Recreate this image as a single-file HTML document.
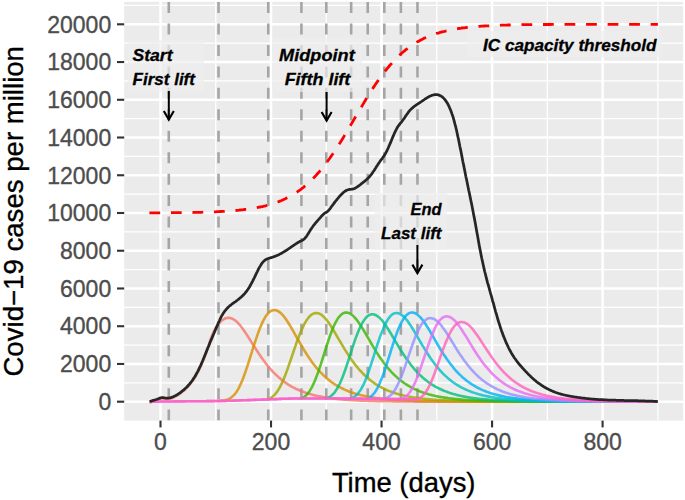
<!DOCTYPE html>
<html><head><meta charset="utf-8"><style>
html,body{margin:0;padding:0;background:#fff;width:685px;height:500px;overflow:hidden}
svg{display:block}
</style></head><body>
<svg width="685" height="500" viewBox="0 0 685 500">
<rect x="0" y="0" width="685" height="500" fill="#fff"/>
<rect x="124.2" y="1.8" width="558.90" height="418.80" fill="#EBEBEB"/>
<defs><clipPath id="pc"><rect x="124.20" y="1.80" width="558.90" height="418.80"/></clipPath></defs>
<g clip-path="url(#pc)">
<line x1="124.2" x2="683.1" y1="382.83" y2="382.83" stroke="#fff" stroke-width="1.3"/>
<line x1="124.2" x2="683.1" y1="345.09" y2="345.09" stroke="#fff" stroke-width="1.3"/>
<line x1="124.2" x2="683.1" y1="307.35" y2="307.35" stroke="#fff" stroke-width="1.3"/>
<line x1="124.2" x2="683.1" y1="269.61" y2="269.61" stroke="#fff" stroke-width="1.3"/>
<line x1="124.2" x2="683.1" y1="231.87" y2="231.87" stroke="#fff" stroke-width="1.3"/>
<line x1="124.2" x2="683.1" y1="194.13" y2="194.13" stroke="#fff" stroke-width="1.3"/>
<line x1="124.2" x2="683.1" y1="156.39" y2="156.39" stroke="#fff" stroke-width="1.3"/>
<line x1="124.2" x2="683.1" y1="118.65" y2="118.65" stroke="#fff" stroke-width="1.3"/>
<line x1="124.2" x2="683.1" y1="80.91" y2="80.91" stroke="#fff" stroke-width="1.3"/>
<line x1="124.2" x2="683.1" y1="43.17" y2="43.17" stroke="#fff" stroke-width="1.3"/>
<line x1="124.2" x2="683.1" y1="5.43" y2="5.43" stroke="#fff" stroke-width="1.3"/>
<line x1="105.24" x2="105.24" y1="1.8" y2="420.6" stroke="#fff" stroke-width="1.3"/>
<line x1="215.76" x2="215.76" y1="1.8" y2="420.6" stroke="#fff" stroke-width="1.3"/>
<line x1="326.29" x2="326.29" y1="1.8" y2="420.6" stroke="#fff" stroke-width="1.3"/>
<line x1="436.81" x2="436.81" y1="1.8" y2="420.6" stroke="#fff" stroke-width="1.3"/>
<line x1="547.34" x2="547.34" y1="1.8" y2="420.6" stroke="#fff" stroke-width="1.3"/>
<line x1="657.87" x2="657.87" y1="1.8" y2="420.6" stroke="#fff" stroke-width="1.3"/>
<line x1="124.2" x2="683.1" y1="401.70" y2="401.70" stroke="#fff" stroke-width="2.5"/>
<line x1="124.2" x2="683.1" y1="363.96" y2="363.96" stroke="#fff" stroke-width="2.5"/>
<line x1="124.2" x2="683.1" y1="326.22" y2="326.22" stroke="#fff" stroke-width="2.5"/>
<line x1="124.2" x2="683.1" y1="288.48" y2="288.48" stroke="#fff" stroke-width="2.5"/>
<line x1="124.2" x2="683.1" y1="250.74" y2="250.74" stroke="#fff" stroke-width="2.5"/>
<line x1="124.2" x2="683.1" y1="213.00" y2="213.00" stroke="#fff" stroke-width="2.5"/>
<line x1="124.2" x2="683.1" y1="175.26" y2="175.26" stroke="#fff" stroke-width="2.5"/>
<line x1="124.2" x2="683.1" y1="137.52" y2="137.52" stroke="#fff" stroke-width="2.5"/>
<line x1="124.2" x2="683.1" y1="99.78" y2="99.78" stroke="#fff" stroke-width="2.5"/>
<line x1="124.2" x2="683.1" y1="62.04" y2="62.04" stroke="#fff" stroke-width="2.5"/>
<line x1="124.2" x2="683.1" y1="24.30" y2="24.30" stroke="#fff" stroke-width="2.5"/>
<line x1="160.50" x2="160.50" y1="1.8" y2="420.6" stroke="#fff" stroke-width="2.5"/>
<line x1="271.03" x2="271.03" y1="1.8" y2="420.6" stroke="#fff" stroke-width="2.5"/>
<line x1="381.55" x2="381.55" y1="1.8" y2="420.6" stroke="#fff" stroke-width="2.5"/>
<line x1="492.08" x2="492.08" y1="1.8" y2="420.6" stroke="#fff" stroke-width="2.5"/>
<line x1="602.60" x2="602.60" y1="1.8" y2="420.6" stroke="#fff" stroke-width="2.5"/>
<line x1="168.79" x2="168.79" y1="420.6" y2="1.8" stroke="#A5A5A5" stroke-width="2.6" stroke-dasharray="11 10.45"/>
<line x1="218.53" x2="218.53" y1="420.6" y2="1.8" stroke="#A5A5A5" stroke-width="2.6" stroke-dasharray="11 10.45"/>
<line x1="268.26" x2="268.26" y1="420.6" y2="1.8" stroke="#A5A5A5" stroke-width="2.6" stroke-dasharray="11 10.45"/>
<line x1="301.42" x2="301.42" y1="420.6" y2="1.8" stroke="#A5A5A5" stroke-width="2.6" stroke-dasharray="11 10.45"/>
<line x1="326.29" x2="326.29" y1="420.6" y2="1.8" stroke="#A5A5A5" stroke-width="2.6" stroke-dasharray="11 10.45"/>
<line x1="351.16" x2="351.16" y1="420.6" y2="1.8" stroke="#A5A5A5" stroke-width="2.6" stroke-dasharray="11 10.45"/>
<line x1="367.74" x2="367.74" y1="420.6" y2="1.8" stroke="#A5A5A5" stroke-width="2.6" stroke-dasharray="11 10.45"/>
<line x1="384.32" x2="384.32" y1="420.6" y2="1.8" stroke="#A5A5A5" stroke-width="2.6" stroke-dasharray="11 10.45"/>
<line x1="400.89" x2="400.89" y1="420.6" y2="1.8" stroke="#A5A5A5" stroke-width="2.6" stroke-dasharray="11 10.45"/>
<line x1="417.47" x2="417.47" y1="420.6" y2="1.8" stroke="#A5A5A5" stroke-width="2.6" stroke-dasharray="11 10.45"/>
</g>
<g fill="#EDEDED" fill-opacity="0.68">
<rect x="128" y="40" width="76" height="51.5"/>
<rect x="272" y="38" width="90" height="54"/>
<rect x="375" y="193" width="72" height="57"/>
<rect x="467" y="31" width="195" height="26"/>
</g>
<path d="M149.4,212.9 L150.6,212.9 L151.7,212.9 L152.8,212.9 L153.9,212.9 L155.0,212.9 L156.1,212.9 L157.2,212.9 L158.3,212.8 L159.4,212.8 L160.5,212.8 L161.6,212.8 L162.7,212.8 L163.8,212.8 L164.9,212.8 L166.0,212.8 L167.1,212.8 L168.2,212.8 L169.3,212.8 L170.4,212.8 L171.6,212.7 L172.7,212.7 L173.8,212.7 L174.9,212.7 L176.0,212.7 L177.1,212.7 L178.2,212.7 L179.3,212.7 L180.4,212.7 L181.5,212.6 L182.6,212.6 L183.7,212.6 L184.8,212.6 L185.9,212.6 L187.0,212.6 L188.1,212.5 L189.2,212.5 L190.3,212.5 L191.4,212.5 L192.6,212.5 L193.7,212.4 L194.8,212.4 L195.9,212.4 L197.0,212.4 L198.1,212.3 L199.2,212.3 L200.3,212.3 L201.4,212.3 L202.5,212.2 L203.6,212.2 L204.7,212.2 L205.8,212.1 L206.9,212.1 L208.0,212.1 L209.1,212.0 L210.2,212.0 L211.3,211.9 L212.4,211.9 L213.6,211.9 L214.7,211.8 L215.8,211.8 L216.9,211.7 L218.0,211.7 L219.1,211.6 L220.2,211.5 L221.3,211.5 L222.4,211.4 L223.5,211.4 L224.6,211.3 L225.7,211.2 L226.8,211.2 L227.9,211.1 L229.0,211.0 L230.1,210.9 L231.2,210.8 L232.3,210.8 L233.4,210.7 L234.6,210.6 L235.7,210.5 L236.8,210.4 L237.9,210.3 L239.0,210.2 L240.1,210.0 L241.2,209.9 L242.3,209.8 L243.4,209.7 L244.5,209.5 L245.6,209.4 L246.7,209.3 L247.8,209.1 L248.9,209.0 L250.0,208.8 L251.1,208.6 L252.2,208.4 L253.3,208.3 L254.4,208.1 L255.6,207.9 L256.7,207.7 L257.8,207.5 L258.9,207.2 L260.0,207.0 L261.1,206.8 L262.2,206.5 L263.3,206.3 L264.4,206.0 L265.5,205.8 L266.6,205.5 L267.7,205.2 L268.8,204.9 L269.9,204.5 L271.0,204.2 L272.1,203.9 L273.2,203.5 L274.3,203.2 L275.4,202.8 L276.6,202.4 L277.7,202.0 L278.8,201.6 L279.9,201.1 L281.0,200.7 L282.1,200.2 L283.2,199.7 L284.3,199.2 L285.4,198.7 L286.5,198.1 L287.6,197.6 L288.7,197.0 L289.8,196.4 L290.9,195.8 L292.0,195.2 L293.1,194.5 L294.2,193.8 L295.3,193.1 L296.4,192.4 L297.6,191.7 L298.7,190.9 L299.8,190.1 L300.9,189.3 L302.0,188.4 L303.1,187.6 L304.2,186.7 L305.3,185.8 L306.4,184.8 L307.5,183.9 L308.6,182.9 L309.7,181.8 L310.8,180.8 L311.9,179.7 L313.0,178.6 L314.1,177.4 L315.2,176.3 L316.3,175.1 L317.4,173.8 L318.6,172.6 L319.7,171.3 L320.8,170.0 L321.9,168.6 L323.0,167.3 L324.1,165.9 L325.2,164.4 L326.3,163.0 L327.4,161.5 L328.5,160.0 L329.6,158.5 L330.7,156.9 L331.8,155.3 L332.9,153.7 L334.0,152.0 L335.1,150.4 L336.2,148.7 L337.3,147.0 L338.4,145.3 L339.6,143.5 L340.7,141.8 L341.8,140.0 L342.9,138.2 L344.0,136.4 L345.1,134.5 L346.2,132.7 L347.3,130.8 L348.4,129.0 L349.5,127.1 L350.6,125.2 L351.7,123.4 L352.8,121.5 L353.9,119.6 L355.0,117.7 L356.1,115.8 L357.2,113.9 L358.3,112.1 L359.4,110.2 L360.6,108.3 L361.7,106.5 L362.8,104.6 L363.9,102.8 L365.0,100.9 L366.1,99.1 L367.2,97.3 L368.3,95.5 L369.4,93.8 L370.5,92.0 L371.6,90.3 L372.7,88.6 L373.8,86.9 L374.9,85.3 L376.0,83.6 L377.1,82.0 L378.2,80.4 L379.3,78.8 L380.4,77.3 L381.6,75.8 L382.7,74.3 L383.8,72.9 L384.9,71.4 L386.0,70.0 L387.1,68.7 L388.2,67.3 L389.3,66.0 L390.4,64.7 L391.5,63.5 L392.6,62.2 L393.7,61.0 L394.8,59.9 L395.9,58.7 L397.0,57.6 L398.1,56.5 L399.2,55.5 L400.3,54.4 L401.4,53.4 L402.6,52.5 L403.7,51.5 L404.8,50.6 L405.9,49.7 L407.0,48.9 L408.1,48.0 L409.2,47.2 L410.3,46.4 L411.4,45.6 L412.5,44.9 L413.6,44.2 L414.7,43.5 L415.8,42.8 L416.9,42.1 L418.0,41.5 L419.1,40.9 L420.2,40.3 L421.3,39.7 L422.4,39.2 L423.6,38.6 L424.7,38.1 L425.8,37.6 L426.9,37.1 L428.0,36.6 L429.1,36.2 L430.2,35.7 L431.3,35.3 L432.4,34.9 L433.5,34.5 L434.6,34.1 L435.7,33.8 L436.8,33.4 L437.9,33.1 L439.0,32.8 L440.1,32.4 L441.2,32.1 L442.3,31.8 L443.4,31.5 L444.6,31.3 L445.7,31.0 L446.8,30.8 L447.9,30.5 L449.0,30.3 L450.1,30.1 L451.2,29.8 L452.3,29.6 L453.4,29.4 L454.5,29.2 L455.6,29.0 L456.7,28.9 L457.8,28.7 L458.9,28.5 L460.0,28.3 L461.1,28.2 L462.2,28.0 L463.3,27.9 L464.4,27.8 L465.6,27.6 L466.7,27.5 L467.8,27.4 L468.9,27.3 L470.0,27.1 L471.1,27.0 L472.2,26.9 L473.3,26.8 L474.4,26.7 L475.5,26.6 L476.6,26.5 L477.7,26.5 L478.8,26.4 L479.9,26.3 L481.0,26.2 L482.1,26.1 L483.2,26.1 L484.3,26.0 L485.4,25.9 L486.6,25.9 L487.7,25.8 L488.8,25.8 L489.9,25.7 L491.0,25.6 L492.1,25.6 L493.2,25.5 L494.3,25.5 L495.4,25.4 L496.5,25.4 L497.6,25.4 L498.7,25.3 L499.8,25.3 L500.9,25.2 L502.0,25.2 L503.1,25.2 L504.2,25.1 L505.3,25.1 L506.4,25.1 L507.6,25.0 L508.7,25.0 L509.8,25.0 L510.9,25.0 L512.0,24.9 L513.1,24.9 L514.2,24.9 L515.3,24.9 L516.4,24.8 L517.5,24.8 L518.6,24.8 L519.7,24.8 L520.8,24.8 L521.9,24.7 L523.0,24.7 L524.1,24.7 L525.2,24.7 L526.3,24.7 L527.4,24.7 L528.6,24.6 L529.7,24.6 L530.8,24.6 L531.9,24.6 L533.0,24.6 L534.1,24.6 L535.2,24.6 L536.3,24.6 L537.4,24.6 L538.5,24.5 L539.6,24.5 L540.7,24.5 L541.8,24.5 L542.9,24.5 L544.0,24.5 L545.1,24.5 L546.2,24.5 L547.3,24.5 L548.4,24.5 L549.6,24.5 L550.7,24.5 L551.8,24.4 L552.9,24.4 L554.0,24.4 L555.1,24.4 L556.2,24.4 L557.3,24.4 L558.4,24.4 L559.5,24.4 L560.6,24.4 L561.7,24.4 L562.8,24.4 L563.9,24.4 L565.0,24.4 L566.1,24.4 L567.2,24.4 L568.3,24.4 L569.4,24.4 L570.6,24.4 L571.7,24.4 L572.8,24.4 L573.9,24.4 L575.0,24.4 L576.1,24.4 L577.2,24.4 L578.3,24.4 L579.4,24.4 L580.5,24.4 L581.6,24.4 L582.7,24.3 L583.8,24.3 L584.9,24.3 L586.0,24.3 L587.1,24.3 L588.2,24.3 L589.3,24.3 L590.4,24.3 L591.6,24.3 L592.7,24.3 L593.8,24.3 L594.9,24.3 L596.0,24.3 L597.1,24.3 L598.2,24.3 L599.3,24.3 L600.4,24.3 L601.5,24.3 L602.6,24.3 L603.7,24.3 L604.8,24.3 L605.9,24.3 L607.0,24.3 L608.1,24.3 L609.2,24.3 L610.3,24.3 L611.4,24.3 L612.6,24.3 L613.7,24.3 L614.8,24.3 L615.9,24.3 L617.0,24.3 L618.1,24.3 L619.2,24.3 L620.3,24.3 L621.4,24.3 L622.5,24.3 L623.6,24.3 L624.7,24.3 L625.8,24.3 L626.9,24.3 L628.0,24.3 L629.1,24.3 L630.2,24.3 L631.3,24.3 L632.4,24.3 L633.6,24.3 L634.7,24.3 L635.8,24.3 L636.9,24.3 L638.0,24.3 L639.1,24.3 L640.2,24.3 L641.3,24.3 L642.4,24.3 L643.5,24.3 L644.6,24.3 L645.7,24.3 L646.8,24.3 L647.9,24.3 L649.0,24.3 L650.1,24.3 L651.2,24.3 L652.3,24.3 L653.4,24.3 L654.6,24.3 L655.7,24.3 L656.8,24.3 L657.9,24.3" fill="none" stroke="#F00" stroke-width="2.8" stroke-dasharray="10.77 10.77"/>
<path d="M149.4,402.3 L150.6,402.3 L151.7,402.1 L152.8,401.8 L153.9,401.4 L155.0,400.9 L156.1,400.4 L157.2,399.9 L158.3,399.4 L159.4,399.0 L160.5,398.7 L161.6,398.5 L162.7,398.4 L163.8,398.6 L164.9,398.8 L166.0,399.0 L167.1,399.0 L168.2,398.9 L169.3,398.8 L170.4,398.5 L171.6,398.2 L172.7,397.8 L173.8,397.3 L174.9,396.8 L176.0,396.2 L177.1,395.6 L178.2,394.9 L179.3,394.1 L180.4,393.4 L181.5,392.5 L182.6,391.6 L183.7,390.7 L184.8,389.7 L185.9,388.7 L187.0,387.6 L188.1,386.4 L189.2,385.2 L190.3,383.8 L191.4,382.4 L192.6,380.9 L193.7,379.3 L194.8,377.5 L195.9,375.7 L197.0,373.7 L198.1,371.6 L199.2,369.4 L200.3,367.0 L201.4,364.6 L202.5,362.0 L203.6,359.3 L204.7,356.6 L205.8,353.7 L206.9,350.6 L208.0,347.3 L209.1,343.9 L210.2,340.6 L211.3,337.5 L212.4,334.6 L213.6,332.0 L214.7,329.8 L215.8,327.9 L216.9,326.2 L218.0,324.7 L219.1,323.3 L220.2,322.1 L221.3,321.0 L222.4,320.1 L223.5,319.4 L224.6,318.8 L225.7,318.3 L226.8,318.0 L227.9,317.9 L229.0,317.9 L230.1,318.0 L231.2,318.3 L232.3,318.7 L233.4,319.3 L234.6,320.0 L235.7,320.8 L236.8,321.8 L237.9,322.9 L239.0,324.1 L240.1,325.3 L241.2,326.7 L242.3,328.2 L243.4,329.7 L244.5,331.3 L245.6,332.9 L246.7,334.6 L247.8,336.3 L248.9,338.1 L250.0,339.8 L251.1,341.6 L252.2,343.3 L253.3,345.1 L254.4,346.8 L255.6,348.6 L256.7,350.3 L257.8,352.0 L258.9,353.7 L260.0,355.3 L261.1,356.9 L262.2,358.5 L263.3,360.0 L264.4,361.5 L265.5,363.0 L266.6,364.4 L267.7,365.8 L268.8,367.1 L269.9,368.4 L271.0,369.7 L272.1,370.9 L273.2,372.1 L274.3,373.2 L275.4,374.3 L276.6,375.4 L277.7,376.4 L278.8,377.4 L279.9,378.3 L281.0,379.3 L282.1,380.1 L283.2,381.0 L284.3,381.8 L285.4,382.6 L286.5,383.4 L287.6,384.1 L288.7,384.8 L289.8,385.5 L290.9,386.1 L292.0,386.8 L293.1,387.4 L294.2,387.9 L295.3,388.5 L296.4,389.0 L297.6,389.5 L298.7,390.0 L299.8,390.5 L300.9,391.0 L302.0,391.4 L303.1,391.8 L304.2,392.2 L305.3,392.6 L306.4,393.0 L307.5,393.3 L308.6,393.7 L309.7,394.0 L310.8,394.3 L311.9,394.6 L313.0,394.9 L314.1,395.2 L315.2,395.4 L316.3,395.7 L317.4,395.9 L318.6,396.2 L319.7,396.4 L320.8,396.6 L321.9,396.8 L323.0,397.0 L324.1,397.2 L325.2,397.4 L326.3,397.6 L327.4,397.7 L328.5,397.9 L329.6,398.1 L330.7,398.2 L331.8,398.3 L332.9,398.5 L334.0,398.6 L335.1,398.7 L336.2,398.9 L337.3,399.0 L338.4,399.1 L339.6,399.2 L340.7,399.3 L341.8,399.4 L342.9,399.5 L344.0,399.6 L345.1,399.7 L346.2,399.7 L347.3,399.8 L348.4,399.9 L349.5,400.0 L350.6,400.0 L351.7,400.1 L352.8,400.2 L353.9,400.2 L355.0,400.3 L356.1,400.4 L357.2,400.4 L358.3,400.5 L359.4,400.5 L360.6,400.6 L361.7,400.6 L362.8,400.7 L363.9,400.7 L365.0,400.7 L366.1,400.8 L367.2,400.8 L368.3,400.9 L369.4,400.9 L370.5,400.9 L371.6,401.0 L372.7,401.0 L373.8,401.0 L374.9,401.0 L376.0,401.1 L377.1,401.1 L378.2,401.1 L379.3,401.1 L380.4,401.2 L381.6,401.2 L382.7,401.2 L383.8,401.2 L384.9,401.2 L386.0,401.3 L387.1,401.3 L388.2,401.3 L389.3,401.3 L390.4,401.3 L391.5,401.3 L392.6,401.4 L393.7,401.4 L394.8,401.4 L395.9,401.4 L397.0,401.4 L398.1,401.4 L399.2,401.4 L400.3,401.4 L401.4,401.5 L402.6,401.5 L403.7,401.5 L404.8,401.5 L405.9,401.5 L407.0,401.5 L408.1,401.5 L409.2,401.5 L410.3,401.5 L411.4,401.5 L412.5,401.5 L413.6,401.5 L414.7,401.6 L415.8,401.6 L416.9,401.6 L418.0,401.6 L419.1,401.6 L420.2,401.6 L421.3,401.6 L422.4,401.6 L423.6,401.6 L424.7,401.6 L425.8,401.6 L426.9,401.6 L428.0,401.6 L429.1,401.6 L430.2,401.6 L431.3,401.6 L432.4,401.6 L433.5,401.6 L434.6,401.6 L435.7,401.6 L436.8,401.6 L437.9,401.6 L439.0,401.6 L440.1,401.6 L441.2,401.6 L442.3,401.6 L443.4,401.7 L444.6,401.7 L445.7,401.7 L446.8,401.7 L447.9,401.7 L449.0,401.7 L450.1,401.7 L451.2,401.7 L452.3,401.7 L453.4,401.7 L454.5,401.7 L455.6,401.7 L456.7,401.7 L457.8,401.7 L458.9,401.7 L460.0,401.7 L461.1,401.7 L462.2,401.7 L463.3,401.7 L464.4,401.7 L465.6,401.7 L466.7,401.7 L467.8,401.7 L468.9,401.7 L470.0,401.7 L471.1,401.7 L472.2,401.7 L473.3,401.7 L474.4,401.7 L475.5,401.7 L476.6,401.7 L477.7,401.7 L478.8,401.7 L479.9,401.7 L481.0,401.7 L482.1,401.7 L483.2,401.7 L484.3,401.7 L485.4,401.7 L486.6,401.7 L487.7,401.7 L488.8,401.7 L489.9,401.7 L491.0,401.7 L492.1,401.7 L493.2,401.7 L494.3,401.7 L495.4,401.7 L496.5,401.7 L497.6,401.7 L498.7,401.7 L499.8,401.7 L500.9,401.7 L502.0,401.7 L503.1,401.7 L504.2,401.7 L505.3,401.7 L506.4,401.7 L507.6,401.7 L508.7,401.7 L509.8,401.7 L510.9,401.7 L512.0,401.7 L513.1,401.7 L514.2,401.7 L515.3,401.7 L516.4,401.7 L517.5,401.7 L518.6,401.7 L519.7,401.7 L520.8,401.7 L521.9,401.7 L523.0,401.7 L524.1,401.7 L525.2,401.7 L526.3,401.7 L527.4,401.7 L528.6,401.7 L529.7,401.7 L530.8,401.7 L531.9,401.7 L533.0,401.7 L534.1,401.7 L535.2,401.7 L536.3,401.7 L537.4,401.7 L538.5,401.7 L539.6,401.7 L540.7,401.7 L541.8,401.7 L542.9,401.7 L544.0,401.7 L545.1,401.7 L546.2,401.7 L547.3,401.7 L548.4,401.7 L549.6,401.7 L550.7,401.7 L551.8,401.7 L552.9,401.7 L554.0,401.7 L555.1,401.7 L556.2,401.7 L557.3,401.7 L558.4,401.7 L559.5,401.7 L560.6,401.7 L561.7,401.7 L562.8,401.7 L563.9,401.7 L565.0,401.7 L566.1,401.7 L567.2,401.7 L568.3,401.7 L569.4,401.7 L570.6,401.7 L571.7,401.7 L572.8,401.7 L573.9,401.7 L575.0,401.7 L576.1,401.7 L577.2,401.7 L578.3,401.7 L579.4,401.7 L580.5,401.7 L581.6,401.7 L582.7,401.7 L583.8,401.7 L584.9,401.7 L586.0,401.7 L587.1,401.7 L588.2,401.7 L589.3,401.7 L590.4,401.7 L591.6,401.7 L592.7,401.7 L593.8,401.7 L594.9,401.7 L596.0,401.7 L597.1,401.7 L598.2,401.7 L599.3,401.7 L600.4,401.7 L601.5,401.7 L602.6,401.7 L603.7,401.7 L604.8,401.7 L605.9,401.7 L607.0,401.7 L608.1,401.7 L609.2,401.7 L610.3,401.7 L611.4,401.7 L612.6,401.7 L613.7,401.7 L614.8,401.7 L615.9,401.7 L617.0,401.7 L618.1,401.7 L619.2,401.7 L620.3,401.7 L621.4,401.7 L622.5,401.7 L623.6,401.7 L624.7,401.7 L625.8,401.7 L626.9,401.7 L628.0,401.7 L629.1,401.7 L630.2,401.7 L631.3,401.7 L632.4,401.7 L633.6,401.7 L634.7,401.7 L635.8,401.7 L636.9,401.7 L638.0,401.7 L639.1,401.7 L640.2,401.7 L641.3,401.7 L642.4,401.7 L643.5,401.7 L644.6,401.7 L645.7,401.7 L646.8,401.7 L647.9,401.7 L649.0,401.7 L650.1,401.7 L651.2,401.7 L652.3,401.7 L653.4,401.7 L654.6,401.7 L655.7,401.7 L656.8,401.7 L657.9,401.7" fill="none" stroke="#F8766D" stroke-opacity="0.8" stroke-width="2.6" stroke-linejoin="round"/>
<path d="M216.9,401.0 L218.0,401.0 L219.1,401.0 L220.2,400.9 L221.3,400.8 L222.4,400.7 L223.5,400.6 L224.6,400.4 L225.7,400.1 L226.8,399.8 L227.9,399.4 L229.0,398.9 L230.1,398.3 L231.2,397.5 L232.3,396.6 L233.4,395.6 L234.6,394.4 L235.7,393.0 L236.8,391.4 L237.9,389.6 L239.0,387.6 L240.1,385.3 L241.2,382.9 L242.3,380.3 L243.4,377.5 L244.5,374.5 L245.6,371.4 L246.7,368.2 L247.8,364.8 L248.9,361.4 L250.0,357.8 L251.1,354.3 L252.2,350.8 L253.3,347.2 L254.4,343.8 L255.6,340.4 L256.7,337.1 L257.8,333.9 L258.9,330.9 L260.0,328.0 L261.1,325.4 L262.2,322.9 L263.3,320.6 L264.4,318.6 L265.5,316.7 L266.6,315.1 L267.7,313.7 L268.8,312.6 L269.9,311.7 L271.0,311.0 L272.1,310.5 L273.2,310.2 L274.3,310.1 L275.4,310.2 L276.6,310.5 L277.7,311.0 L278.8,311.6 L279.9,312.4 L281.0,313.3 L282.1,314.4 L283.2,315.7 L284.3,317.0 L285.4,318.5 L286.5,320.1 L287.6,321.7 L288.7,323.5 L289.8,325.3 L290.9,327.1 L292.0,329.0 L293.1,330.9 L294.2,332.9 L295.3,334.8 L296.4,336.8 L297.6,338.8 L298.7,340.7 L299.8,342.7 L300.9,344.6 L302.0,346.5 L303.1,348.4 L304.2,350.2 L305.3,352.0 L306.4,353.7 L307.5,355.5 L308.6,357.1 L309.7,358.8 L310.8,360.3 L311.9,361.9 L313.0,363.4 L314.1,364.8 L315.2,366.2 L316.3,367.6 L317.4,368.9 L318.6,370.2 L319.7,371.4 L320.8,372.6 L321.9,373.7 L323.0,374.8 L324.1,375.9 L325.2,376.9 L326.3,377.9 L327.4,378.8 L328.5,379.7 L329.6,380.6 L330.7,381.5 L331.8,382.3 L332.9,383.0 L334.0,383.8 L335.1,384.5 L336.2,385.2 L337.3,385.9 L338.4,386.5 L339.6,387.1 L340.7,387.7 L341.8,388.3 L342.9,388.8 L344.0,389.3 L345.1,389.9 L346.2,390.3 L347.3,390.8 L348.4,391.2 L349.5,391.7 L350.6,392.1 L351.7,392.5 L352.8,392.8 L353.9,393.2 L355.0,393.5 L356.1,393.9 L357.2,394.2 L358.3,394.5 L359.4,394.8 L360.6,395.1 L361.7,395.3 L362.8,395.6 L363.9,395.9 L365.0,396.1 L366.1,396.3 L367.2,396.5 L368.3,396.7 L369.4,397.0 L370.5,397.1 L371.6,397.3 L372.7,397.5 L373.8,397.7 L374.9,397.8 L376.0,398.0 L377.1,398.2 L378.2,398.3 L379.3,398.4 L380.4,398.6 L381.6,398.7 L382.7,398.8 L383.8,398.9 L384.9,399.0 L386.0,399.2 L387.1,399.3 L388.2,399.4 L389.3,399.5 L390.4,399.5 L391.5,399.6 L392.6,399.7 L393.7,399.8 L394.8,399.9 L395.9,400.0 L397.0,400.0 L398.1,400.1 L399.2,400.2 L400.3,400.2 L401.4,400.3 L402.6,400.3 L403.7,400.4 L404.8,400.4 L405.9,400.5 L407.0,400.5 L408.1,400.6 L409.2,400.6 L410.3,400.7 L411.4,400.7 L412.5,400.8 L413.6,400.8 L414.7,400.8 L415.8,400.9 L416.9,400.9 L418.0,400.9 L419.1,401.0 L420.2,401.0 L421.3,401.0 L422.4,401.1 L423.6,401.1 L424.7,401.1 L425.8,401.1 L426.9,401.2 L428.0,401.2 L429.1,401.2 L430.2,401.2 L431.3,401.2 L432.4,401.3 L433.5,401.3 L434.6,401.3 L435.7,401.3 L436.8,401.3 L437.9,401.3 L439.0,401.4 L440.1,401.4 L441.2,401.4 L442.3,401.4 L443.4,401.4 L444.6,401.4 L445.7,401.4 L446.8,401.4 L447.9,401.5 L449.0,401.5 L450.1,401.5 L451.2,401.5 L452.3,401.5 L453.4,401.5 L454.5,401.5 L455.6,401.5 L456.7,401.5 L457.8,401.5 L458.9,401.5 L460.0,401.5 L461.1,401.6 L462.2,401.6 L463.3,401.6 L464.4,401.6 L465.6,401.6 L466.7,401.6 L467.8,401.6 L468.9,401.6 L470.0,401.6 L471.1,401.6 L472.2,401.6 L473.3,401.6 L474.4,401.6 L475.5,401.6 L476.6,401.6 L477.7,401.6 L478.8,401.6 L479.9,401.6 L481.0,401.6 L482.1,401.6 L483.2,401.6 L484.3,401.6 L485.4,401.6 L486.6,401.6 L487.7,401.6 L488.8,401.6 L489.9,401.6 L491.0,401.7 L492.1,401.7 L493.2,401.7 L494.3,401.7 L495.4,401.7 L496.5,401.7 L497.6,401.7 L498.7,401.7 L499.8,401.7 L500.9,401.7 L502.0,401.7 L503.1,401.7 L504.2,401.7 L505.3,401.7 L506.4,401.7 L507.6,401.7 L508.7,401.7 L509.8,401.7 L510.9,401.7 L512.0,401.7 L513.1,401.7 L514.2,401.7 L515.3,401.7 L516.4,401.7 L517.5,401.7 L518.6,401.7 L519.7,401.7 L520.8,401.7 L521.9,401.7 L523.0,401.7 L524.1,401.7 L525.2,401.7 L526.3,401.7 L527.4,401.7 L528.6,401.7 L529.7,401.7 L530.8,401.7 L531.9,401.7 L533.0,401.7 L534.1,401.7 L535.2,401.7 L536.3,401.7 L537.4,401.7 L538.5,401.7 L539.6,401.7 L540.7,401.7 L541.8,401.7 L542.9,401.7 L544.0,401.7 L545.1,401.7 L546.2,401.7 L547.3,401.7 L548.4,401.7 L549.6,401.7 L550.7,401.7 L551.8,401.7 L552.9,401.7 L554.0,401.7 L555.1,401.7 L556.2,401.7 L557.3,401.7 L558.4,401.7 L559.5,401.7 L560.6,401.7 L561.7,401.7 L562.8,401.7 L563.9,401.7 L565.0,401.7 L566.1,401.7 L567.2,401.7 L568.3,401.7 L569.4,401.7 L570.6,401.7 L571.7,401.7 L572.8,401.7 L573.9,401.7 L575.0,401.7 L576.1,401.7 L577.2,401.7 L578.3,401.7 L579.4,401.7 L580.5,401.7 L581.6,401.7 L582.7,401.7 L583.8,401.7 L584.9,401.7 L586.0,401.7 L587.1,401.7 L588.2,401.7 L589.3,401.7 L590.4,401.7 L591.6,401.7 L592.7,401.7 L593.8,401.7 L594.9,401.7 L596.0,401.7 L597.1,401.7 L598.2,401.7 L599.3,401.7 L600.4,401.7 L601.5,401.7 L602.6,401.7 L603.7,401.7 L604.8,401.7 L605.9,401.7 L607.0,401.7 L608.1,401.7 L609.2,401.7 L610.3,401.7 L611.4,401.7 L612.6,401.7 L613.7,401.7 L614.8,401.7 L615.9,401.7 L617.0,401.7 L618.1,401.7 L619.2,401.7 L620.3,401.7 L621.4,401.7 L622.5,401.7 L623.6,401.7 L624.7,401.7 L625.8,401.7 L626.9,401.7 L628.0,401.7 L629.1,401.7 L630.2,401.7 L631.3,401.7 L632.4,401.7 L633.6,401.7 L634.7,401.7 L635.8,401.7 L636.9,401.7 L638.0,401.7 L639.1,401.7 L640.2,401.7 L641.3,401.7 L642.4,401.7 L643.5,401.7 L644.6,401.7 L645.7,401.7 L646.8,401.7 L647.9,401.7 L649.0,401.7 L650.1,401.7 L651.2,401.7 L652.3,401.7 L653.4,401.7 L654.6,401.7 L655.7,401.7 L656.8,401.7 L657.9,401.7" fill="none" stroke="#D89000" stroke-opacity="0.8" stroke-width="2.6" stroke-linejoin="round"/>
<path d="M266.6,399.5 L267.7,399.4 L268.8,399.2 L269.9,398.6 L271.0,397.9 L272.1,397.1 L273.2,396.1 L274.3,395.0 L275.4,393.8 L276.6,392.4 L277.7,390.8 L278.8,389.0 L279.9,387.1 L281.0,384.9 L282.1,382.6 L283.2,380.2 L284.3,377.5 L285.4,374.8 L286.5,371.9 L287.6,368.9 L288.7,365.7 L289.8,362.5 L290.9,359.3 L292.0,356.0 L293.1,352.8 L294.2,349.5 L295.3,346.3 L296.4,343.1 L297.6,340.1 L298.7,337.1 L299.8,334.3 L300.9,331.6 L302.0,329.0 L303.1,326.6 L304.2,324.4 L305.3,322.4 L306.4,320.6 L307.5,319.0 L308.6,317.5 L309.7,316.3 L310.8,315.3 L311.9,314.4 L313.0,313.8 L314.1,313.4 L315.2,313.1 L316.3,313.0 L317.4,313.1 L318.6,313.4 L319.7,313.8 L320.8,314.4 L321.9,315.1 L323.0,316.1 L324.1,317.1 L325.2,318.3 L326.3,319.6 L327.4,321.0 L328.5,322.5 L329.6,324.1 L330.7,325.8 L331.8,327.5 L332.9,329.3 L334.0,331.1 L335.1,333.0 L336.2,334.9 L337.3,336.8 L338.4,338.7 L339.6,340.6 L340.7,342.5 L341.8,344.4 L342.9,346.2 L344.0,348.1 L345.1,349.9 L346.2,351.6 L347.3,353.4 L348.4,355.1 L349.5,356.8 L350.6,358.4 L351.7,360.0 L352.8,361.5 L353.9,363.0 L355.0,364.4 L356.1,365.9 L357.2,367.2 L358.3,368.5 L359.4,369.8 L360.6,371.0 L361.7,372.2 L362.8,373.4 L363.9,374.5 L365.0,375.6 L366.1,376.6 L367.2,377.6 L368.3,378.5 L369.4,379.5 L370.5,380.3 L371.6,381.2 L372.7,382.0 L373.8,382.8 L374.9,383.6 L376.0,384.3 L377.1,385.0 L378.2,385.7 L379.3,386.3 L380.4,386.9 L381.6,387.5 L382.7,388.1 L383.8,388.7 L384.9,389.2 L386.0,389.7 L387.1,390.2 L388.2,390.6 L389.3,391.1 L390.4,391.5 L391.5,391.9 L392.6,392.3 L393.7,392.7 L394.8,393.1 L395.9,393.4 L397.0,393.8 L398.1,394.1 L399.2,394.4 L400.3,394.7 L401.4,395.0 L402.6,395.3 L403.7,395.5 L404.8,395.8 L405.9,396.0 L407.0,396.2 L408.1,396.5 L409.2,396.7 L410.3,396.9 L411.4,397.1 L412.5,397.3 L413.6,397.5 L414.7,397.6 L415.8,397.8 L416.9,397.9 L418.0,398.1 L419.1,398.2 L420.2,398.4 L421.3,398.5 L422.4,398.7 L423.6,398.8 L424.7,398.9 L425.8,399.0 L426.9,399.1 L428.0,399.2 L429.1,399.3 L430.2,399.4 L431.3,399.5 L432.4,399.6 L433.5,399.7 L434.6,399.8 L435.7,399.9 L436.8,399.9 L437.9,400.0 L439.0,400.1 L440.1,400.1 L441.2,400.2 L442.3,400.3 L443.4,400.3 L444.6,400.4 L445.7,400.4 L446.8,400.5 L447.9,400.5 L449.0,400.6 L450.1,400.6 L451.2,400.7 L452.3,400.7 L453.4,400.8 L454.5,400.8 L455.6,400.8 L456.7,400.9 L457.8,400.9 L458.9,400.9 L460.0,401.0 L461.1,401.0 L462.2,401.0 L463.3,401.0 L464.4,401.1 L465.6,401.1 L466.7,401.1 L467.8,401.1 L468.9,401.2 L470.0,401.2 L471.1,401.2 L472.2,401.2 L473.3,401.3 L474.4,401.3 L475.5,401.3 L476.6,401.3 L477.7,401.3 L478.8,401.3 L479.9,401.4 L481.0,401.4 L482.1,401.4 L483.2,401.4 L484.3,401.4 L485.4,401.4 L486.6,401.4 L487.7,401.4 L488.8,401.4 L489.9,401.5 L491.0,401.5 L492.1,401.5 L493.2,401.5 L494.3,401.5 L495.4,401.5 L496.5,401.5 L497.6,401.5 L498.7,401.5 L499.8,401.5 L500.9,401.5 L502.0,401.5 L503.1,401.6 L504.2,401.6 L505.3,401.6 L506.4,401.6 L507.6,401.6 L508.7,401.6 L509.8,401.6 L510.9,401.6 L512.0,401.6 L513.1,401.6 L514.2,401.6 L515.3,401.6 L516.4,401.6 L517.5,401.6 L518.6,401.6 L519.7,401.6 L520.8,401.6 L521.9,401.6 L523.0,401.6 L524.1,401.6 L525.2,401.6 L526.3,401.6 L527.4,401.6 L528.6,401.6 L529.7,401.6 L530.8,401.6 L531.9,401.7 L533.0,401.7 L534.1,401.7 L535.2,401.7 L536.3,401.7 L537.4,401.7 L538.5,401.7 L539.6,401.7 L540.7,401.7 L541.8,401.7 L542.9,401.7 L544.0,401.7 L545.1,401.7 L546.2,401.7 L547.3,401.7 L548.4,401.7 L549.6,401.7 L550.7,401.7 L551.8,401.7 L552.9,401.7 L554.0,401.7 L555.1,401.7 L556.2,401.7 L557.3,401.7 L558.4,401.7 L559.5,401.7 L560.6,401.7 L561.7,401.7 L562.8,401.7 L563.9,401.7 L565.0,401.7 L566.1,401.7 L567.2,401.7 L568.3,401.7 L569.4,401.7 L570.6,401.7 L571.7,401.7 L572.8,401.7 L573.9,401.7 L575.0,401.7 L576.1,401.7 L577.2,401.7 L578.3,401.7 L579.4,401.7 L580.5,401.7 L581.6,401.7 L582.7,401.7 L583.8,401.7 L584.9,401.7 L586.0,401.7 L587.1,401.7 L588.2,401.7 L589.3,401.7 L590.4,401.7 L591.6,401.7 L592.7,401.7 L593.8,401.7 L594.9,401.7 L596.0,401.7 L597.1,401.7 L598.2,401.7 L599.3,401.7 L600.4,401.7 L601.5,401.7 L602.6,401.7 L603.7,401.7 L604.8,401.7 L605.9,401.7 L607.0,401.7 L608.1,401.7 L609.2,401.7 L610.3,401.7 L611.4,401.7 L612.6,401.7 L613.7,401.7 L614.8,401.7 L615.9,401.7 L617.0,401.7 L618.1,401.7 L619.2,401.7 L620.3,401.7 L621.4,401.7 L622.5,401.7 L623.6,401.7 L624.7,401.7 L625.8,401.7 L626.9,401.7 L628.0,401.7 L629.1,401.7 L630.2,401.7 L631.3,401.7 L632.4,401.7 L633.6,401.7 L634.7,401.7 L635.8,401.7 L636.9,401.7 L638.0,401.7 L639.1,401.7 L640.2,401.7 L641.3,401.7 L642.4,401.7 L643.5,401.7 L644.6,401.7 L645.7,401.7 L646.8,401.7 L647.9,401.7 L649.0,401.7 L650.1,401.7 L651.2,401.7 L652.3,401.7 L653.4,401.7 L654.6,401.7 L655.7,401.7 L656.8,401.7 L657.9,401.7" fill="none" stroke="#A3A500" stroke-opacity="0.8" stroke-width="2.6" stroke-linejoin="round"/>
<path d="M299.8,398.5 L300.9,398.5 L302.0,398.2 L303.1,397.6 L304.2,396.9 L305.3,396.1 L306.4,395.0 L307.5,393.8 L308.6,392.4 L309.7,390.9 L310.8,389.1 L311.9,387.1 L313.0,384.9 L314.1,382.5 L315.2,379.9 L316.3,377.1 L317.4,374.1 L318.6,371.0 L319.7,367.7 L320.8,364.3 L321.9,360.9 L323.0,357.4 L324.1,353.9 L325.2,350.4 L326.3,346.9 L327.4,343.5 L328.5,340.2 L329.6,337.0 L330.7,333.9 L331.8,331.0 L332.9,328.3 L334.0,325.7 L335.1,323.4 L336.2,321.3 L337.3,319.4 L338.4,317.7 L339.6,316.3 L340.7,315.1 L341.8,314.2 L342.9,313.4 L344.0,312.9 L345.1,312.6 L346.2,312.5 L347.3,312.6 L348.4,312.9 L349.5,313.3 L350.6,313.9 L351.7,314.6 L352.8,315.6 L353.9,316.6 L355.0,317.8 L356.1,319.1 L357.2,320.5 L358.3,322.0 L359.4,323.7 L360.6,325.3 L361.7,327.1 L362.8,328.9 L363.9,330.7 L365.0,332.6 L366.1,334.5 L367.2,336.4 L368.3,338.3 L369.4,340.2 L370.5,342.1 L371.6,344.0 L372.7,345.9 L373.8,347.7 L374.9,349.6 L376.0,351.4 L377.1,353.1 L378.2,354.8 L379.3,356.5 L380.4,358.1 L381.6,359.7 L382.7,361.3 L383.8,362.8 L384.9,364.2 L386.0,365.6 L387.1,367.0 L388.2,368.3 L389.3,369.6 L390.4,370.9 L391.5,372.1 L392.6,373.2 L393.7,374.3 L394.8,375.4 L395.9,376.4 L397.0,377.4 L398.1,378.4 L399.2,379.3 L400.3,380.2 L401.4,381.1 L402.6,381.9 L403.7,382.7 L404.8,383.5 L405.9,384.2 L407.0,384.9 L408.1,385.6 L409.2,386.2 L410.3,386.9 L411.4,387.5 L412.5,388.0 L413.6,388.6 L414.7,389.1 L415.8,389.6 L416.9,390.1 L418.0,390.6 L419.1,391.0 L420.2,391.5 L421.3,391.9 L422.4,392.3 L423.6,392.7 L424.7,393.0 L425.8,393.4 L426.9,393.7 L428.0,394.0 L429.1,394.4 L430.2,394.7 L431.3,394.9 L432.4,395.2 L433.5,395.5 L434.6,395.7 L435.7,396.0 L436.8,396.2 L437.9,396.4 L439.0,396.7 L440.1,396.9 L441.2,397.1 L442.3,397.2 L443.4,397.4 L444.6,397.6 L445.7,397.8 L446.8,397.9 L447.9,398.1 L449.0,398.2 L450.1,398.4 L451.2,398.5 L452.3,398.6 L453.4,398.8 L454.5,398.9 L455.6,399.0 L456.7,399.1 L457.8,399.2 L458.9,399.3 L460.0,399.4 L461.1,399.5 L462.2,399.6 L463.3,399.7 L464.4,399.8 L465.6,399.8 L466.7,399.9 L467.8,400.0 L468.9,400.1 L470.0,400.1 L471.1,400.2 L472.2,400.3 L473.3,400.3 L474.4,400.4 L475.5,400.4 L476.6,400.5 L477.7,400.5 L478.8,400.6 L479.9,400.6 L481.0,400.7 L482.1,400.7 L483.2,400.7 L484.3,400.8 L485.4,400.8 L486.6,400.9 L487.7,400.9 L488.8,400.9 L489.9,401.0 L491.0,401.0 L492.1,401.0 L493.2,401.0 L494.3,401.1 L495.4,401.1 L496.5,401.1 L497.6,401.1 L498.7,401.2 L499.8,401.2 L500.9,401.2 L502.0,401.2 L503.1,401.2 L504.2,401.3 L505.3,401.3 L506.4,401.3 L507.6,401.3 L508.7,401.3 L509.8,401.3 L510.9,401.4 L512.0,401.4 L513.1,401.4 L514.2,401.4 L515.3,401.4 L516.4,401.4 L517.5,401.4 L518.6,401.4 L519.7,401.5 L520.8,401.5 L521.9,401.5 L523.0,401.5 L524.1,401.5 L525.2,401.5 L526.3,401.5 L527.4,401.5 L528.6,401.5 L529.7,401.5 L530.8,401.5 L531.9,401.5 L533.0,401.6 L534.1,401.6 L535.2,401.6 L536.3,401.6 L537.4,401.6 L538.5,401.6 L539.6,401.6 L540.7,401.6 L541.8,401.6 L542.9,401.6 L544.0,401.6 L545.1,401.6 L546.2,401.6 L547.3,401.6 L548.4,401.6 L549.6,401.6 L550.7,401.6 L551.8,401.6 L552.9,401.6 L554.0,401.6 L555.1,401.6 L556.2,401.6 L557.3,401.6 L558.4,401.6 L559.5,401.6 L560.6,401.6 L561.7,401.7 L562.8,401.7 L563.9,401.7 L565.0,401.7 L566.1,401.7 L567.2,401.7 L568.3,401.7 L569.4,401.7 L570.6,401.7 L571.7,401.7 L572.8,401.7 L573.9,401.7 L575.0,401.7 L576.1,401.7 L577.2,401.7 L578.3,401.7 L579.4,401.7 L580.5,401.7 L581.6,401.7 L582.7,401.7 L583.8,401.7 L584.9,401.7 L586.0,401.7 L587.1,401.7 L588.2,401.7 L589.3,401.7 L590.4,401.7 L591.6,401.7 L592.7,401.7 L593.8,401.7 L594.9,401.7 L596.0,401.7 L597.1,401.7 L598.2,401.7 L599.3,401.7 L600.4,401.7 L601.5,401.7 L602.6,401.7 L603.7,401.7 L604.8,401.7 L605.9,401.7 L607.0,401.7 L608.1,401.7 L609.2,401.7 L610.3,401.7 L611.4,401.7 L612.6,401.7 L613.7,401.7 L614.8,401.7 L615.9,401.7 L617.0,401.7 L618.1,401.7 L619.2,401.7 L620.3,401.7 L621.4,401.7 L622.5,401.7 L623.6,401.7 L624.7,401.7 L625.8,401.7 L626.9,401.7 L628.0,401.7 L629.1,401.7 L630.2,401.7 L631.3,401.7 L632.4,401.7 L633.6,401.7 L634.7,401.7 L635.8,401.7 L636.9,401.7 L638.0,401.7 L639.1,401.7 L640.2,401.7 L641.3,401.7 L642.4,401.7 L643.5,401.7 L644.6,401.7 L645.7,401.7 L646.8,401.7 L647.9,401.7 L649.0,401.7 L650.1,401.7 L651.2,401.7 L652.3,401.7 L653.4,401.7 L654.6,401.7 L655.7,401.7 L656.8,401.7 L657.9,401.7" fill="none" stroke="#39B600" stroke-opacity="0.8" stroke-width="2.6" stroke-linejoin="round"/>
<path d="M324.1,398.5 L325.2,398.5 L326.3,398.5 L327.4,398.1 L328.5,397.6 L329.6,397.0 L330.7,396.2 L331.8,395.3 L332.9,394.3 L334.0,393.1 L335.1,391.7 L336.2,390.1 L337.3,388.3 L338.4,386.3 L339.6,384.0 L340.7,381.6 L341.8,379.0 L342.9,376.2 L344.0,373.3 L345.1,370.2 L346.2,367.0 L347.3,363.7 L348.4,360.3 L349.5,356.9 L350.6,353.5 L351.7,350.1 L352.8,346.7 L353.9,343.4 L355.0,340.2 L356.1,337.1 L357.2,334.2 L358.3,331.4 L359.4,328.8 L360.6,326.4 L361.7,324.2 L362.8,322.2 L363.9,320.4 L365.0,318.9 L366.1,317.6 L367.2,316.5 L368.3,315.6 L369.4,315.0 L370.5,314.6 L371.6,314.3 L372.7,314.3 L373.8,314.5 L374.9,314.8 L376.0,315.3 L377.1,315.9 L378.2,316.7 L379.3,317.6 L380.4,318.7 L381.6,319.9 L382.7,321.2 L383.8,322.7 L384.9,324.2 L386.0,325.8 L387.1,327.5 L388.2,329.2 L389.3,331.0 L390.4,332.8 L391.5,334.6 L392.6,336.5 L393.7,338.4 L394.8,340.2 L395.9,342.1 L397.0,344.0 L398.1,345.8 L399.2,347.7 L400.3,349.5 L401.4,351.2 L402.6,353.0 L403.7,354.7 L404.8,356.3 L405.9,358.0 L407.0,359.6 L408.1,361.1 L409.2,362.6 L410.3,364.1 L411.4,365.5 L412.5,366.8 L413.6,368.2 L414.7,369.5 L415.8,370.7 L416.9,371.9 L418.0,373.1 L419.1,374.2 L420.2,375.3 L421.3,376.3 L422.4,377.3 L423.6,378.3 L424.7,379.2 L425.8,380.1 L426.9,381.0 L428.0,381.8 L429.1,382.6 L430.2,383.3 L431.3,384.1 L432.4,384.8 L433.5,385.5 L434.6,386.1 L435.7,386.8 L436.8,387.4 L437.9,387.9 L439.0,388.5 L440.1,389.0 L441.2,389.5 L442.3,390.0 L443.4,390.5 L444.6,391.0 L445.7,391.4 L446.8,391.8 L447.9,392.2 L449.0,392.6 L450.1,393.0 L451.2,393.3 L452.3,393.7 L453.4,394.0 L454.5,394.3 L455.6,394.6 L456.7,394.9 L457.8,395.2 L458.9,395.4 L460.0,395.7 L461.1,395.9 L462.2,396.2 L463.3,396.4 L464.4,396.6 L465.6,396.8 L466.7,397.0 L467.8,397.2 L468.9,397.4 L470.0,397.6 L471.1,397.7 L472.2,397.9 L473.3,398.1 L474.4,398.2 L475.5,398.3 L476.6,398.5 L477.7,398.6 L478.8,398.7 L479.9,398.9 L481.0,399.0 L482.1,399.1 L483.2,399.2 L484.3,399.3 L485.4,399.4 L486.6,399.5 L487.7,399.6 L488.8,399.7 L489.9,399.7 L491.0,399.8 L492.1,399.9 L493.2,400.0 L494.3,400.0 L495.4,400.1 L496.5,400.2 L497.6,400.2 L498.7,400.3 L499.8,400.4 L500.9,400.4 L502.0,400.5 L503.1,400.5 L504.2,400.6 L505.3,400.6 L506.4,400.7 L507.6,400.7 L508.7,400.7 L509.8,400.8 L510.9,400.8 L512.0,400.9 L513.1,400.9 L514.2,400.9 L515.3,401.0 L516.4,401.0 L517.5,401.0 L518.6,401.0 L519.7,401.1 L520.8,401.1 L521.9,401.1 L523.0,401.1 L524.1,401.2 L525.2,401.2 L526.3,401.2 L527.4,401.2 L528.6,401.2 L529.7,401.3 L530.8,401.3 L531.9,401.3 L533.0,401.3 L534.1,401.3 L535.2,401.3 L536.3,401.4 L537.4,401.4 L538.5,401.4 L539.6,401.4 L540.7,401.4 L541.8,401.4 L542.9,401.4 L544.0,401.4 L545.1,401.5 L546.2,401.5 L547.3,401.5 L548.4,401.5 L549.6,401.5 L550.7,401.5 L551.8,401.5 L552.9,401.5 L554.0,401.5 L555.1,401.5 L556.2,401.5 L557.3,401.5 L558.4,401.6 L559.5,401.6 L560.6,401.6 L561.7,401.6 L562.8,401.6 L563.9,401.6 L565.0,401.6 L566.1,401.6 L567.2,401.6 L568.3,401.6 L569.4,401.6 L570.6,401.6 L571.7,401.6 L572.8,401.6 L573.9,401.6 L575.0,401.6 L576.1,401.6 L577.2,401.6 L578.3,401.6 L579.4,401.6 L580.5,401.6 L581.6,401.6 L582.7,401.6 L583.8,401.6 L584.9,401.6 L586.0,401.6 L587.1,401.7 L588.2,401.7 L589.3,401.7 L590.4,401.7 L591.6,401.7 L592.7,401.7 L593.8,401.7 L594.9,401.7 L596.0,401.7 L597.1,401.7 L598.2,401.7 L599.3,401.7 L600.4,401.7 L601.5,401.7 L602.6,401.7 L603.7,401.7 L604.8,401.7 L605.9,401.7 L607.0,401.7 L608.1,401.7 L609.2,401.7 L610.3,401.7 L611.4,401.7 L612.6,401.7 L613.7,401.7 L614.8,401.7 L615.9,401.7 L617.0,401.7 L618.1,401.7 L619.2,401.7 L620.3,401.7 L621.4,401.7 L622.5,401.7 L623.6,401.7 L624.7,401.7 L625.8,401.7 L626.9,401.7 L628.0,401.7 L629.1,401.7 L630.2,401.7 L631.3,401.7 L632.4,401.7 L633.6,401.7 L634.7,401.7 L635.8,401.7 L636.9,401.7 L638.0,401.7 L639.1,401.7 L640.2,401.7 L641.3,401.7 L642.4,401.7 L643.5,401.7 L644.6,401.7 L645.7,401.7 L646.8,401.7 L647.9,401.7 L649.0,401.7 L650.1,401.7 L651.2,401.7 L652.3,401.7 L653.4,401.7 L654.6,401.7 L655.7,401.7 L656.8,401.7 L657.9,401.7" fill="none" stroke="#00BF7D" stroke-opacity="0.8" stroke-width="2.6" stroke-linejoin="round"/>
<path d="M349.5,398.5 L350.6,398.5 L351.7,398.3 L352.8,397.8 L353.9,397.1 L355.0,396.4 L356.1,395.4 L357.2,394.3 L358.3,393.1 L359.4,391.6 L360.6,389.9 L361.7,388.0 L362.8,386.0 L363.9,383.7 L365.0,381.2 L366.1,378.5 L367.2,375.6 L368.3,372.6 L369.4,369.4 L370.5,366.1 L371.6,362.7 L372.7,359.3 L373.8,355.8 L374.9,352.3 L376.0,348.8 L377.1,345.4 L378.2,342.1 L379.3,338.8 L380.4,335.7 L381.6,332.7 L382.7,329.9 L383.8,327.3 L384.9,324.9 L386.0,322.7 L387.1,320.7 L388.2,319.0 L389.3,317.4 L390.4,316.1 L391.5,315.1 L392.6,314.2 L393.7,313.6 L394.8,313.2 L395.9,313.0 L397.0,313.0 L398.1,313.2 L399.2,313.6 L400.3,314.1 L401.4,314.8 L402.6,315.6 L403.7,316.6 L404.8,317.7 L405.9,319.0 L407.0,320.3 L408.1,321.8 L409.2,323.4 L410.3,325.0 L411.4,326.7 L412.5,328.5 L413.6,330.3 L414.7,332.1 L415.8,334.0 L416.9,335.9 L418.0,337.8 L419.1,339.7 L420.2,341.6 L421.3,343.5 L422.4,345.4 L423.6,347.2 L424.7,349.1 L425.8,350.8 L426.9,352.6 L428.0,354.3 L429.1,356.0 L430.2,357.7 L431.3,359.3 L432.4,360.8 L433.5,362.3 L434.6,363.8 L435.7,365.2 L436.8,366.6 L437.9,367.9 L439.0,369.2 L440.1,370.5 L441.2,371.7 L442.3,372.9 L443.4,374.0 L444.6,375.1 L445.7,376.1 L446.8,377.1 L447.9,378.1 L449.0,379.1 L450.1,380.0 L451.2,380.8 L452.3,381.7 L453.4,382.5 L454.5,383.2 L455.6,384.0 L456.7,384.7 L457.8,385.4 L458.9,386.0 L460.0,386.7 L461.1,387.3 L462.2,387.9 L463.3,388.4 L464.4,388.9 L465.6,389.5 L466.7,390.0 L467.8,390.4 L468.9,390.9 L470.0,391.3 L471.1,391.8 L472.2,392.2 L473.3,392.5 L474.4,392.9 L475.5,393.3 L476.6,393.6 L477.7,393.9 L478.8,394.3 L479.9,394.6 L481.0,394.9 L482.1,395.1 L483.2,395.4 L484.3,395.7 L485.4,395.9 L486.6,396.1 L487.7,396.4 L488.8,396.6 L489.9,396.8 L491.0,397.0 L492.1,397.2 L493.2,397.4 L494.3,397.5 L495.4,397.7 L496.5,397.9 L497.6,398.0 L498.7,398.2 L499.8,398.3 L500.9,398.5 L502.0,398.6 L503.1,398.7 L504.2,398.8 L505.3,399.0 L506.4,399.1 L507.6,399.2 L508.7,399.3 L509.8,399.4 L510.9,399.5 L512.0,399.6 L513.1,399.7 L514.2,399.7 L515.3,399.8 L516.4,399.9 L517.5,400.0 L518.6,400.0 L519.7,400.1 L520.8,400.2 L521.9,400.2 L523.0,400.3 L524.1,400.4 L525.2,400.4 L526.3,400.5 L527.4,400.5 L528.6,400.6 L529.7,400.6 L530.8,400.6 L531.9,400.7 L533.0,400.7 L534.1,400.8 L535.2,400.8 L536.3,400.8 L537.4,400.9 L538.5,400.9 L539.6,400.9 L540.7,401.0 L541.8,401.0 L542.9,401.0 L544.0,401.1 L545.1,401.1 L546.2,401.1 L547.3,401.1 L548.4,401.2 L549.6,401.2 L550.7,401.2 L551.8,401.2 L552.9,401.2 L554.0,401.3 L555.1,401.3 L556.2,401.3 L557.3,401.3 L558.4,401.3 L559.5,401.3 L560.6,401.4 L561.7,401.4 L562.8,401.4 L563.9,401.4 L565.0,401.4 L566.1,401.4 L567.2,401.4 L568.3,401.4 L569.4,401.5 L570.6,401.5 L571.7,401.5 L572.8,401.5 L573.9,401.5 L575.0,401.5 L576.1,401.5 L577.2,401.5 L578.3,401.5 L579.4,401.5 L580.5,401.5 L581.6,401.5 L582.7,401.6 L583.8,401.6 L584.9,401.6 L586.0,401.6 L587.1,401.6 L588.2,401.6 L589.3,401.6 L590.4,401.6 L591.6,401.6 L592.7,401.6 L593.8,401.6 L594.9,401.6 L596.0,401.6 L597.1,401.6 L598.2,401.6 L599.3,401.6 L600.4,401.6 L601.5,401.6 L602.6,401.6 L603.7,401.6 L604.8,401.6 L605.9,401.6 L607.0,401.6 L608.1,401.6 L609.2,401.6 L610.3,401.6 L611.4,401.6 L612.6,401.7 L613.7,401.7 L614.8,401.7 L615.9,401.7 L617.0,401.7 L618.1,401.7 L619.2,401.7 L620.3,401.7 L621.4,401.7 L622.5,401.7 L623.6,401.7 L624.7,401.7 L625.8,401.7 L626.9,401.7 L628.0,401.7 L629.1,401.7 L630.2,401.7 L631.3,401.7 L632.4,401.7 L633.6,401.7 L634.7,401.7 L635.8,401.7 L636.9,401.7 L638.0,401.7 L639.1,401.7 L640.2,401.7 L641.3,401.7 L642.4,401.7 L643.5,401.7 L644.6,401.7 L645.7,401.7 L646.8,401.7 L647.9,401.7 L649.0,401.7 L650.1,401.7 L651.2,401.7 L652.3,401.7 L653.4,401.7 L654.6,401.7 L655.7,401.7 L656.8,401.7 L657.9,401.7" fill="none" stroke="#00BFC4" stroke-opacity="0.8" stroke-width="2.6" stroke-linejoin="round"/>
<path d="M366.1,398.7 L367.2,398.7 L368.3,398.4 L369.4,397.8 L370.5,397.0 L371.6,396.0 L372.7,394.9 L373.8,393.7 L374.9,392.2 L376.0,390.5 L377.1,388.6 L378.2,386.5 L379.3,384.2 L380.4,381.6 L381.6,378.9 L382.7,376.0 L383.8,373.0 L384.9,369.8 L386.0,366.4 L387.1,363.0 L388.2,359.5 L389.3,356.0 L390.4,352.5 L391.5,348.9 L392.6,345.5 L393.7,342.1 L394.8,338.8 L395.9,335.6 L397.0,332.6 L398.1,329.8 L399.2,327.1 L400.3,324.7 L401.4,322.4 L402.6,320.4 L403.7,318.6 L404.8,317.1 L405.9,315.7 L407.0,314.6 L408.1,313.8 L409.2,313.1 L410.3,312.7 L411.4,312.5 L412.5,312.5 L413.6,312.7 L414.7,313.0 L415.8,313.6 L416.9,314.2 L418.0,315.1 L419.1,316.1 L420.2,317.2 L421.3,318.4 L422.4,319.8 L423.6,321.3 L424.7,322.8 L425.8,324.5 L426.9,326.2 L428.0,328.0 L429.1,329.8 L430.2,331.7 L431.3,333.5 L432.4,335.4 L433.5,337.4 L434.6,339.3 L435.7,341.2 L436.8,343.1 L437.9,345.0 L439.0,346.8 L440.1,348.7 L441.2,350.5 L442.3,352.2 L443.4,354.0 L444.6,355.7 L445.7,357.3 L446.8,358.9 L447.9,360.5 L449.0,362.0 L450.1,363.5 L451.2,364.9 L452.3,366.3 L453.4,367.7 L454.5,369.0 L455.6,370.3 L456.7,371.5 L457.8,372.7 L458.9,373.8 L460.0,374.9 L461.1,375.9 L462.2,377.0 L463.3,377.9 L464.4,378.9 L465.6,379.8 L466.7,380.7 L467.8,381.5 L468.9,382.3 L470.0,383.1 L471.1,383.8 L472.2,384.6 L473.3,385.2 L474.4,385.9 L475.5,386.5 L476.6,387.2 L477.7,387.7 L478.8,388.3 L479.9,388.8 L481.0,389.4 L482.1,389.9 L483.2,390.4 L484.3,390.8 L485.4,391.3 L486.6,391.7 L487.7,392.1 L488.8,392.5 L489.9,392.9 L491.0,393.2 L492.1,393.6 L493.2,393.9 L494.3,394.2 L495.4,394.5 L496.5,394.8 L497.6,395.1 L498.7,395.4 L499.8,395.6 L500.9,395.9 L502.0,396.1 L503.1,396.3 L504.2,396.5 L505.3,396.8 L506.4,397.0 L507.6,397.2 L508.7,397.3 L509.8,397.5 L510.9,397.7 L512.0,397.8 L513.1,398.0 L514.2,398.2 L515.3,398.3 L516.4,398.4 L517.5,398.6 L518.6,398.7 L519.7,398.8 L520.8,398.9 L521.9,399.1 L523.0,399.2 L524.1,399.3 L525.2,399.4 L526.3,399.5 L527.4,399.6 L528.6,399.6 L529.7,399.7 L530.8,399.8 L531.9,399.9 L533.0,400.0 L534.1,400.0 L535.2,400.1 L536.3,400.2 L537.4,400.2 L538.5,400.3 L539.6,400.3 L540.7,400.4 L541.8,400.4 L542.9,400.5 L544.0,400.5 L545.1,400.6 L546.2,400.6 L547.3,400.7 L548.4,400.7 L549.6,400.8 L550.7,400.8 L551.8,400.8 L552.9,400.9 L554.0,400.9 L555.1,400.9 L556.2,401.0 L557.3,401.0 L558.4,401.0 L559.5,401.1 L560.6,401.1 L561.7,401.1 L562.8,401.1 L563.9,401.2 L565.0,401.2 L566.1,401.2 L567.2,401.2 L568.3,401.2 L569.4,401.3 L570.6,401.3 L571.7,401.3 L572.8,401.3 L573.9,401.3 L575.0,401.3 L576.1,401.4 L577.2,401.4 L578.3,401.4 L579.4,401.4 L580.5,401.4 L581.6,401.4 L582.7,401.4 L583.8,401.4 L584.9,401.5 L586.0,401.5 L587.1,401.5 L588.2,401.5 L589.3,401.5 L590.4,401.5 L591.6,401.5 L592.7,401.5 L593.8,401.5 L594.9,401.5 L596.0,401.5 L597.1,401.5 L598.2,401.6 L599.3,401.6 L600.4,401.6 L601.5,401.6 L602.6,401.6 L603.7,401.6 L604.8,401.6 L605.9,401.6 L607.0,401.6 L608.1,401.6 L609.2,401.6 L610.3,401.6 L611.4,401.6 L612.6,401.6 L613.7,401.6 L614.8,401.6 L615.9,401.6 L617.0,401.6 L618.1,401.6 L619.2,401.6 L620.3,401.6 L621.4,401.6 L622.5,401.6 L623.6,401.6 L624.7,401.6 L625.8,401.6 L626.9,401.6 L628.0,401.7 L629.1,401.7 L630.2,401.7 L631.3,401.7 L632.4,401.7 L633.6,401.7 L634.7,401.7 L635.8,401.7 L636.9,401.7 L638.0,401.7 L639.1,401.7 L640.2,401.7 L641.3,401.7 L642.4,401.7 L643.5,401.7 L644.6,401.7 L645.7,401.7 L646.8,401.7 L647.9,401.7 L649.0,401.7 L650.1,401.7 L651.2,401.7 L652.3,401.7 L653.4,401.7 L654.6,401.7 L655.7,401.7 L656.8,401.7 L657.9,401.7" fill="none" stroke="#00B0F6" stroke-opacity="0.8" stroke-width="2.6" stroke-linejoin="round"/>
<path d="M382.7,398.9 L383.8,398.9 L384.9,398.7 L386.0,398.3 L387.1,397.8 L388.2,397.1 L389.3,396.4 L390.4,395.4 L391.5,394.4 L392.6,393.1 L393.7,391.7 L394.8,390.0 L395.9,388.2 L397.0,386.2 L398.1,383.9 L399.2,381.5 L400.3,378.9 L401.4,376.2 L402.6,373.3 L403.7,370.2 L404.8,367.1 L405.9,363.9 L407.0,360.6 L408.1,357.3 L409.2,354.1 L410.3,350.8 L411.4,347.6 L412.5,344.5 L413.6,341.4 L414.7,338.6 L415.8,335.8 L416.9,333.2 L418.0,330.8 L419.1,328.6 L420.2,326.6 L421.3,324.8 L422.4,323.2 L423.6,321.8 L424.7,320.7 L425.8,319.8 L426.9,319.0 L428.0,318.5 L429.1,318.2 L430.2,318.1 L431.3,318.2 L432.4,318.4 L433.5,318.8 L434.6,319.3 L435.7,320.0 L436.8,320.9 L437.9,321.9 L439.0,323.0 L440.1,324.2 L441.2,325.5 L442.3,326.9 L443.4,328.4 L444.6,330.0 L445.7,331.6 L446.8,333.3 L447.9,335.0 L449.0,336.8 L450.1,338.5 L451.2,340.3 L452.3,342.1 L453.4,343.9 L454.5,345.7 L455.6,347.5 L456.7,349.2 L457.8,351.0 L458.9,352.7 L460.0,354.4 L461.1,356.0 L462.2,357.6 L463.3,359.2 L464.4,360.7 L465.6,362.2 L466.7,363.7 L467.8,365.1 L468.9,366.5 L470.0,367.8 L471.1,369.1 L472.2,370.3 L473.3,371.5 L474.4,372.7 L475.5,373.8 L476.6,374.9 L477.7,376.0 L478.8,377.0 L479.9,377.9 L481.0,378.9 L482.1,379.8 L483.2,380.7 L484.3,381.5 L485.4,382.3 L486.6,383.1 L487.7,383.8 L488.8,384.5 L489.9,385.2 L491.0,385.9 L492.1,386.5 L493.2,387.1 L494.3,387.7 L495.4,388.3 L496.5,388.8 L497.6,389.4 L498.7,389.9 L499.8,390.3 L500.9,390.8 L502.0,391.2 L503.1,391.7 L504.2,392.1 L505.3,392.5 L506.4,392.8 L507.6,393.2 L508.7,393.5 L509.8,393.9 L510.9,394.2 L512.0,394.5 L513.1,394.8 L514.2,395.1 L515.3,395.3 L516.4,395.6 L517.5,395.9 L518.6,396.1 L519.7,396.3 L520.8,396.5 L521.9,396.7 L523.0,396.9 L524.1,397.1 L525.2,397.3 L526.3,397.5 L527.4,397.7 L528.6,397.8 L529.7,398.0 L530.8,398.2 L531.9,398.3 L533.0,398.4 L534.1,398.6 L535.2,398.7 L536.3,398.8 L537.4,398.9 L538.5,399.0 L539.6,399.2 L540.7,399.3 L541.8,399.4 L542.9,399.5 L544.0,399.5 L545.1,399.6 L546.2,399.7 L547.3,399.8 L548.4,399.9 L549.6,400.0 L550.7,400.0 L551.8,400.1 L552.9,400.2 L554.0,400.2 L555.1,400.3 L556.2,400.3 L557.3,400.4 L558.4,400.4 L559.5,400.5 L560.6,400.5 L561.7,400.6 L562.8,400.6 L563.9,400.7 L565.0,400.7 L566.1,400.8 L567.2,400.8 L568.3,400.8 L569.4,400.9 L570.6,400.9 L571.7,400.9 L572.8,401.0 L573.9,401.0 L575.0,401.0 L576.1,401.1 L577.2,401.1 L578.3,401.1 L579.4,401.1 L580.5,401.2 L581.6,401.2 L582.7,401.2 L583.8,401.2 L584.9,401.2 L586.0,401.3 L587.1,401.3 L588.2,401.3 L589.3,401.3 L590.4,401.3 L591.6,401.3 L592.7,401.4 L593.8,401.4 L594.9,401.4 L596.0,401.4 L597.1,401.4 L598.2,401.4 L599.3,401.4 L600.4,401.4 L601.5,401.5 L602.6,401.5 L603.7,401.5 L604.8,401.5 L605.9,401.5 L607.0,401.5 L608.1,401.5 L609.2,401.5 L610.3,401.5 L611.4,401.5 L612.6,401.5 L613.7,401.5 L614.8,401.6 L615.9,401.6 L617.0,401.6 L618.1,401.6 L619.2,401.6 L620.3,401.6 L621.4,401.6 L622.5,401.6 L623.6,401.6 L624.7,401.6 L625.8,401.6 L626.9,401.6 L628.0,401.6 L629.1,401.6 L630.2,401.6 L631.3,401.6 L632.4,401.6 L633.6,401.6 L634.7,401.6 L635.8,401.6 L636.9,401.6 L638.0,401.6 L639.1,401.6 L640.2,401.6 L641.3,401.6 L642.4,401.6 L643.5,401.6 L644.6,401.7 L645.7,401.7 L646.8,401.7 L647.9,401.7 L649.0,401.7 L650.1,401.7 L651.2,401.7 L652.3,401.7 L653.4,401.7 L654.6,401.7 L655.7,401.7 L656.8,401.7 L657.9,401.7" fill="none" stroke="#9590FF" stroke-opacity="0.8" stroke-width="2.6" stroke-linejoin="round"/>
<path d="M399.2,399.1 L400.3,399.1 L401.4,399.0 L402.6,398.5 L403.7,398.0 L404.8,397.3 L405.9,396.5 L407.0,395.5 L408.1,394.3 L409.2,393.0 L410.3,391.5 L411.4,389.8 L412.5,387.9 L413.6,385.7 L414.7,383.4 L415.8,380.9 L416.9,378.2 L418.0,375.3 L419.1,372.3 L420.2,369.2 L421.3,366.0 L422.4,362.7 L423.6,359.3 L424.7,355.9 L425.8,352.6 L426.9,349.2 L428.0,346.0 L429.1,342.8 L430.2,339.7 L431.3,336.8 L432.4,334.0 L433.5,331.4 L434.6,328.9 L435.7,326.7 L436.8,324.7 L437.9,322.9 L439.0,321.3 L440.1,319.9 L441.2,318.8 L442.3,317.9 L443.4,317.2 L444.6,316.7 L445.7,316.4 L446.8,316.4 L447.9,316.5 L449.0,316.7 L450.1,317.2 L451.2,317.7 L452.3,318.5 L453.4,319.4 L454.5,320.4 L455.6,321.5 L456.7,322.8 L457.8,324.2 L458.9,325.6 L460.0,327.2 L461.1,328.8 L462.2,330.5 L463.3,332.2 L464.4,334.0 L465.6,335.8 L466.7,337.6 L467.8,339.4 L468.9,341.2 L470.0,343.1 L471.1,344.9 L472.2,346.7 L473.3,348.5 L474.4,350.3 L475.5,352.0 L476.6,353.7 L477.7,355.4 L478.8,357.0 L479.9,358.6 L481.0,360.2 L482.1,361.7 L483.2,363.2 L484.3,364.6 L485.4,366.0 L486.6,367.3 L487.7,368.6 L488.8,369.9 L489.9,371.1 L491.0,372.3 L492.1,373.5 L493.2,374.6 L494.3,375.6 L495.4,376.6 L496.5,377.6 L497.6,378.6 L498.7,379.5 L499.8,380.4 L500.9,381.2 L502.0,382.1 L503.1,382.8 L504.2,383.6 L505.3,384.3 L506.4,385.0 L507.6,385.7 L508.7,386.3 L509.8,387.0 L510.9,387.6 L512.0,388.1 L513.1,388.7 L514.2,389.2 L515.3,389.7 L516.4,390.2 L517.5,390.7 L518.6,391.1 L519.7,391.5 L520.8,391.9 L521.9,392.3 L523.0,392.7 L524.1,393.1 L525.2,393.4 L526.3,393.8 L527.4,394.1 L528.6,394.4 L529.7,394.7 L530.8,395.0 L531.9,395.3 L533.0,395.5 L534.1,395.8 L535.2,396.0 L536.3,396.3 L537.4,396.5 L538.5,396.7 L539.6,396.9 L540.7,397.1 L541.8,397.3 L542.9,397.5 L544.0,397.6 L545.1,397.8 L546.2,398.0 L547.3,398.1 L548.4,398.3 L549.6,398.4 L550.7,398.5 L551.8,398.7 L552.9,398.8 L554.0,398.9 L555.1,399.0 L556.2,399.1 L557.3,399.2 L558.4,399.3 L559.5,399.4 L560.6,399.5 L561.7,399.6 L562.8,399.7 L563.9,399.8 L565.0,399.9 L566.1,399.9 L567.2,400.0 L568.3,400.1 L569.4,400.1 L570.6,400.2 L571.7,400.3 L572.8,400.3 L573.9,400.4 L575.0,400.4 L576.1,400.5 L577.2,400.5 L578.3,400.6 L579.4,400.6 L580.5,400.7 L581.6,400.7 L582.7,400.8 L583.8,400.8 L584.9,400.8 L586.0,400.9 L587.1,400.9 L588.2,400.9 L589.3,401.0 L590.4,401.0 L591.6,401.0 L592.7,401.0 L593.8,401.1 L594.9,401.1 L596.0,401.1 L597.1,401.1 L598.2,401.2 L599.3,401.2 L600.4,401.2 L601.5,401.2 L602.6,401.3 L603.7,401.3 L604.8,401.3 L605.9,401.3 L607.0,401.3 L608.1,401.3 L609.2,401.4 L610.3,401.4 L611.4,401.4 L612.6,401.4 L613.7,401.4 L614.8,401.4 L615.9,401.4 L617.0,401.4 L618.1,401.5 L619.2,401.5 L620.3,401.5 L621.4,401.5 L622.5,401.5 L623.6,401.5 L624.7,401.5 L625.8,401.5 L626.9,401.5 L628.0,401.5 L629.1,401.5 L630.2,401.5 L631.3,401.5 L632.4,401.6 L633.6,401.6 L634.7,401.6 L635.8,401.6 L636.9,401.6 L638.0,401.6 L639.1,401.6 L640.2,401.6 L641.3,401.6 L642.4,401.6 L643.5,401.6 L644.6,401.6 L645.7,401.6 L646.8,401.6 L647.9,401.6 L649.0,401.6 L650.1,401.6 L651.2,401.6 L652.3,401.6 L653.4,401.6 L654.6,401.6 L655.7,401.6 L656.8,401.6 L657.9,401.6" fill="none" stroke="#E76BF3" stroke-opacity="0.8" stroke-width="2.6" stroke-linejoin="round"/>
<path d="M149.4,401.6 L150.6,401.6 L151.7,401.6 L152.8,401.6 L153.9,401.6 L155.0,401.6 L156.1,401.6 L157.2,401.6 L158.3,401.6 L159.4,401.5 L160.5,401.5 L161.6,401.5 L162.7,401.5 L163.8,401.5 L164.9,401.5 L166.0,401.5 L167.1,401.5 L168.2,401.5 L169.3,401.5 L170.4,401.5 L171.6,401.5 L172.7,401.5 L173.8,401.4 L174.9,401.4 L176.0,401.4 L177.1,401.4 L178.2,401.4 L179.3,401.4 L180.4,401.4 L181.5,401.4 L182.6,401.4 L183.7,401.4 L184.8,401.4 L185.9,401.3 L187.0,401.3 L188.1,401.3 L189.2,401.3 L190.3,401.3 L191.4,401.3 L192.6,401.3 L193.7,401.3 L194.8,401.3 L195.9,401.3 L197.0,401.2 L198.1,401.2 L199.2,401.2 L200.3,401.2 L201.4,401.2 L202.5,401.2 L203.6,401.2 L204.7,401.2 L205.8,401.2 L206.9,401.1 L208.0,401.1 L209.1,401.1 L210.2,401.1 L211.3,401.1 L212.4,401.1 L213.6,401.1 L214.7,401.0 L215.8,401.0 L216.9,401.0 L218.0,401.0 L219.1,401.0 L220.2,401.0 L221.3,400.9 L222.4,400.9 L223.5,400.9 L224.6,400.9 L225.7,400.9 L226.8,400.8 L227.9,400.8 L229.0,400.8 L230.1,400.7 L231.2,400.7 L232.3,400.7 L233.4,400.6 L234.6,400.6 L235.7,400.6 L236.8,400.5 L237.9,400.5 L239.0,400.5 L240.1,400.4 L241.2,400.4 L242.3,400.3 L243.4,400.3 L244.5,400.3 L245.6,400.2 L246.7,400.2 L247.8,400.1 L248.9,400.1 L250.0,400.1 L251.1,400.0 L252.2,400.0 L253.3,399.9 L254.4,399.9 L255.6,399.9 L256.7,399.8 L257.8,399.8 L258.9,399.8 L260.0,399.7 L261.1,399.7 L262.2,399.6 L263.3,399.6 L264.4,399.6 L265.5,399.5 L266.6,399.5 L267.7,399.4 L268.8,399.4 L269.9,399.3 L271.0,399.3 L272.1,399.3 L273.2,399.2 L274.3,399.2 L275.4,399.1 L276.6,399.1 L277.7,399.0 L278.8,399.0 L279.9,398.9 L281.0,398.9 L282.1,398.8 L283.2,398.8 L284.3,398.8 L285.4,398.7 L286.5,398.7 L287.6,398.7 L288.7,398.6 L289.8,398.6 L290.9,398.6 L292.0,398.6 L293.1,398.5 L294.2,398.5 L295.3,398.5 L296.4,398.5 L297.6,398.5 L298.7,398.5 L299.8,398.5 L300.9,398.5 L302.0,398.5 L303.1,398.5 L304.2,398.5 L305.3,398.5 L306.4,398.5 L307.5,398.5 L308.6,398.5 L309.7,398.5 L310.8,398.5 L311.9,398.5 L313.0,398.5 L314.1,398.5 L315.2,398.5 L316.3,398.5 L317.4,398.5 L318.6,398.5 L319.7,398.5 L320.8,398.5 L321.9,398.5 L323.0,398.5 L324.1,398.5 L325.2,398.5 L326.3,398.5 L327.4,398.5 L328.5,398.5 L329.6,398.5 L330.7,398.5 L331.8,398.5 L332.9,398.5 L334.0,398.5 L335.1,398.5 L336.2,398.5 L337.3,398.5 L338.4,398.5 L339.6,398.5 L340.7,398.5 L341.8,398.5 L342.9,398.5 L344.0,398.5 L345.1,398.5 L346.2,398.5 L347.3,398.5 L348.4,398.5 L349.5,398.5 L350.6,398.5 L351.7,398.5 L352.8,398.6 L353.9,398.6 L355.0,398.6 L356.1,398.6 L357.2,398.6 L358.3,398.6 L359.4,398.6 L360.6,398.6 L361.7,398.6 L362.8,398.7 L363.9,398.7 L365.0,398.7 L366.1,398.7 L367.2,398.7 L368.3,398.7 L369.4,398.7 L370.5,398.7 L371.6,398.8 L372.7,398.8 L373.8,398.8 L374.9,398.8 L376.0,398.8 L377.1,398.8 L378.2,398.8 L379.3,398.8 L380.4,398.9 L381.6,398.9 L382.7,398.9 L383.8,398.9 L384.9,398.9 L386.0,398.9 L387.1,398.9 L388.2,399.0 L389.3,399.0 L390.4,399.0 L391.5,399.0 L392.6,399.0 L393.7,399.0 L394.8,399.0 L395.9,399.1 L397.0,399.1 L398.1,399.1 L399.2,399.1 L400.3,399.1 L401.4,399.2 L402.6,399.2 L403.7,399.2 L404.8,399.2 L405.9,399.2 L407.0,399.3 L408.1,399.3 L409.2,399.3 L410.3,399.3 L411.4,399.3 L412.5,399.4 L413.6,399.4 L414.7,399.4 L415.8,399.4 L416.9,399.4" fill="none" stroke="#E76BF3" stroke-opacity="0.8" stroke-width="2.6" stroke-linejoin="round"/>
<path d="M149.4,401.6 L150.6,401.6 L151.7,401.6 L152.8,401.6 L153.9,401.6 L155.0,401.6 L156.1,401.6 L157.2,401.6 L158.3,401.6 L159.4,401.5 L160.5,401.5 L161.6,401.5 L162.7,401.5 L163.8,401.5 L164.9,401.5 L166.0,401.5 L167.1,401.5 L168.2,401.5 L169.3,401.5 L170.4,401.5 L171.6,401.5 L172.7,401.5 L173.8,401.4 L174.9,401.4 L176.0,401.4 L177.1,401.4 L178.2,401.4 L179.3,401.4 L180.4,401.4 L181.5,401.4 L182.6,401.4 L183.7,401.4 L184.8,401.4 L185.9,401.3 L187.0,401.3 L188.1,401.3 L189.2,401.3 L190.3,401.3 L191.4,401.3 L192.6,401.3 L193.7,401.3 L194.8,401.3 L195.9,401.3 L197.0,401.2 L198.1,401.2 L199.2,401.2 L200.3,401.2 L201.4,401.2 L202.5,401.2 L203.6,401.2 L204.7,401.2 L205.8,401.2 L206.9,401.1 L208.0,401.1 L209.1,401.1 L210.2,401.1 L211.3,401.1 L212.4,401.1 L213.6,401.1 L214.7,401.0 L215.8,401.0 L216.9,401.0 L218.0,401.0 L219.1,401.0 L220.2,401.0 L221.3,400.9 L222.4,400.9 L223.5,400.9 L224.6,400.9 L225.7,400.9 L226.8,400.8 L227.9,400.8 L229.0,400.8 L230.1,400.7 L231.2,400.7 L232.3,400.7 L233.4,400.6 L234.6,400.6 L235.7,400.6 L236.8,400.5 L237.9,400.5 L239.0,400.5 L240.1,400.4 L241.2,400.4 L242.3,400.3 L243.4,400.3 L244.5,400.3 L245.6,400.2 L246.7,400.2 L247.8,400.1 L248.9,400.1 L250.0,400.1 L251.1,400.0 L252.2,400.0 L253.3,399.9 L254.4,399.9 L255.6,399.9 L256.7,399.8 L257.8,399.8 L258.9,399.8 L260.0,399.7 L261.1,399.7 L262.2,399.6 L263.3,399.6 L264.4,399.6 L265.5,399.5 L266.6,399.5 L267.7,399.4 L268.8,399.4 L269.9,399.3 L271.0,399.3 L272.1,399.3 L273.2,399.2 L274.3,399.2 L275.4,399.1 L276.6,399.1 L277.7,399.0 L278.8,399.0 L279.9,398.9 L281.0,398.9 L282.1,398.8 L283.2,398.8 L284.3,398.8 L285.4,398.7 L286.5,398.7 L287.6,398.7 L288.7,398.6 L289.8,398.6 L290.9,398.6 L292.0,398.6 L293.1,398.5 L294.2,398.5 L295.3,398.5 L296.4,398.5 L297.6,398.5 L298.7,398.5 L299.8,398.5 L300.9,398.5 L302.0,398.5 L303.1,398.5 L304.2,398.5 L305.3,398.5 L306.4,398.5 L307.5,398.5 L308.6,398.5 L309.7,398.5 L310.8,398.5 L311.9,398.5 L313.0,398.5 L314.1,398.5 L315.2,398.5 L316.3,398.5 L317.4,398.5 L318.6,398.5 L319.7,398.5 L320.8,398.5 L321.9,398.5 L323.0,398.5 L324.1,398.5 L325.2,398.5 L326.3,398.5 L327.4,398.5 L328.5,398.5 L329.6,398.5 L330.7,398.5 L331.8,398.5 L332.9,398.5 L334.0,398.5 L335.1,398.5 L336.2,398.5 L337.3,398.5 L338.4,398.5 L339.6,398.5 L340.7,398.5 L341.8,398.5 L342.9,398.5 L344.0,398.5 L345.1,398.5 L346.2,398.5 L347.3,398.5 L348.4,398.5 L349.5,398.5 L350.6,398.5 L351.7,398.5 L352.8,398.6 L353.9,398.6 L355.0,398.6 L356.1,398.6 L357.2,398.6 L358.3,398.6 L359.4,398.6 L360.6,398.6 L361.7,398.6 L362.8,398.7 L363.9,398.7 L365.0,398.7 L366.1,398.7 L367.2,398.7 L368.3,398.7 L369.4,398.7 L370.5,398.7 L371.6,398.8 L372.7,398.8 L373.8,398.8 L374.9,398.8 L376.0,398.8 L377.1,398.8 L378.2,398.8 L379.3,398.8 L380.4,398.9 L381.6,398.9 L382.7,398.9 L383.8,398.9 L384.9,398.9 L386.0,398.9 L387.1,398.9 L388.2,399.0 L389.3,399.0 L390.4,399.0 L391.5,399.0 L392.6,399.0 L393.7,399.0 L394.8,399.0 L395.9,399.1 L397.0,399.1 L398.1,399.1 L399.2,399.1 L400.3,399.1 L401.4,399.2 L402.6,399.2 L403.7,399.2 L404.8,399.2 L405.9,399.2 L407.0,399.3 L408.1,399.3 L409.2,399.3 L410.3,399.3 L411.4,399.3 L412.5,399.4 L413.6,399.4 L414.7,399.4 L415.8,399.4 L416.9,399.4 L418.0,399.2 L419.1,398.6 L420.2,397.9 L421.3,397.1 L422.4,396.1 L423.6,394.9 L424.7,393.6 L425.8,392.0 L426.9,390.3 L428.0,388.4 L429.1,386.3 L430.2,384.0 L431.3,381.6 L432.4,379.0 L433.5,376.2 L434.6,373.3 L435.7,370.3 L436.8,367.2 L437.9,364.1 L439.0,360.9 L440.1,357.8 L441.2,354.6 L442.3,351.5 L443.4,348.4 L444.6,345.5 L445.7,342.6 L446.8,339.9 L447.9,337.4 L449.0,335.0 L450.1,332.8 L451.2,330.8 L452.3,329.0 L453.4,327.4 L454.5,326.0 L455.6,324.8 L456.7,323.9 L457.8,323.1 L458.9,322.5 L460.0,322.2 L461.1,322.0 L462.2,322.0 L463.3,322.2 L464.4,322.5 L465.6,323.0 L466.7,323.6 L467.8,324.4 L468.9,325.3 L470.0,326.3 L471.1,327.4 L472.2,328.6 L473.3,330.0 L474.4,331.4 L475.5,332.9 L476.6,334.4 L477.7,336.0 L478.8,337.6 L479.9,339.3 L481.0,341.0 L482.1,342.7 L483.2,344.4 L484.3,346.1 L485.4,347.8 L486.6,349.5 L487.7,351.2 L488.8,352.8 L489.9,354.5 L491.0,356.1 L492.1,357.7 L493.2,359.2 L494.3,360.7 L495.4,362.2 L496.5,363.6 L497.6,365.0 L498.7,366.4 L499.8,367.7 L500.9,369.0 L502.0,370.2 L503.1,371.4 L504.2,372.6 L505.3,373.7 L506.4,374.8 L507.6,375.8 L508.7,376.9 L509.8,377.8 L510.9,378.8 L512.0,379.7 L513.1,380.5 L514.2,381.4 L515.3,382.2 L516.4,383.0 L517.5,383.7 L518.6,384.4 L519.7,385.1 L520.8,385.8 L521.9,386.4 L523.0,387.1 L524.1,387.6 L525.2,388.2 L526.3,388.8 L527.4,389.3 L528.6,389.8 L529.7,390.3 L530.8,390.7 L531.9,391.2 L533.0,391.6 L534.1,392.0 L535.2,392.4 L536.3,392.8 L537.4,393.1 L538.5,393.5 L539.6,393.8 L540.7,394.1 L541.8,394.5 L542.9,394.7 L544.0,395.0 L545.1,395.3 L546.2,395.6 L547.3,395.8 L548.4,396.1 L549.6,396.3 L550.7,396.5 L551.8,396.7 L552.9,396.9 L554.0,397.1 L555.1,397.3 L556.2,397.5 L557.3,397.7 L558.4,397.8 L559.5,398.0 L560.6,398.1 L561.7,398.3 L562.8,398.4 L563.9,398.5 L565.0,398.7 L566.1,398.8 L567.2,398.9 L568.3,399.0 L569.4,399.1 L570.6,399.2 L571.7,399.3 L572.8,399.4 L573.9,399.5 L575.0,399.6 L576.1,399.7 L577.2,399.8 L578.3,399.9 L579.4,399.9 L580.5,400.0 L581.6,400.1 L582.7,400.1 L583.8,400.2 L584.9,400.3 L586.0,400.3 L587.1,400.4 L588.2,400.4 L589.3,400.5 L590.4,400.5 L591.6,400.6 L592.7,400.6 L593.8,400.7 L594.9,400.7 L596.0,400.8 L597.1,400.8 L598.2,400.8 L599.3,400.9 L600.4,400.9 L601.5,400.9 L602.6,401.0 L603.7,401.0 L604.8,401.0 L605.9,401.1 L607.0,401.1 L608.1,401.1 L609.2,401.1 L610.3,401.2 L611.4,401.2 L612.6,401.2 L613.7,401.2 L614.8,401.2 L615.9,401.3 L617.0,401.3 L618.1,401.3 L619.2,401.3 L620.3,401.3 L621.4,401.3 L622.5,401.4 L623.6,401.4 L624.7,401.4 L625.8,401.4 L626.9,401.4 L628.0,401.4 L629.1,401.4 L630.2,401.4 L631.3,401.5 L632.4,401.5 L633.6,401.5 L634.7,401.5 L635.8,401.5 L636.9,401.5 L638.0,401.5 L639.1,401.5 L640.2,401.5 L641.3,401.5 L642.4,401.5 L643.5,401.5 L644.6,401.5 L645.7,401.6 L646.8,401.6 L647.9,401.6 L649.0,401.6 L650.1,401.6 L651.2,401.6 L652.3,401.6 L653.4,401.6 L654.6,401.6 L655.7,401.6 L656.8,401.6 L657.9,401.6" fill="none" stroke="#FF62BC" stroke-opacity="0.8" stroke-width="2.6" stroke-linejoin="round"/>
<path d="M149.7,401.5 L150.4,401.3 L151.2,401.1 L151.9,400.8 L152.6,400.6 L153.3,400.4 L154.1,400.2 L154.8,400.0 L155.5,399.7 L156.2,399.5 L157.0,399.3 L157.7,399.0 L158.4,398.7 L159.1,398.4 L159.9,398.1 L160.6,397.9 L161.3,397.7 L162.1,397.6 L162.8,397.6 L163.5,397.7 L164.2,397.8 L165.0,398.0 L165.7,398.1 L166.4,398.1 L167.1,398.1 L167.9,398.0 L168.6,398.0 L169.3,397.9 L170.0,397.8 L170.8,397.6 L171.5,397.4 L172.2,397.1 L173.0,396.8 L173.7,396.5 L174.4,396.1 L175.1,395.8 L175.9,395.4 L176.6,395.0 L177.3,394.6 L178.0,394.1 L178.8,393.6 L179.5,393.1 L180.2,392.6 L181.0,392.1 L181.7,391.5 L182.4,390.9 L183.1,390.4 L183.9,389.7 L184.6,389.1 L185.3,388.4 L186.0,387.7 L186.8,387.0 L187.5,386.3 L188.2,385.5 L188.9,384.7 L189.7,383.8 L190.4,382.9 L191.1,382.0 L191.9,381.0 L192.6,380.0 L193.3,378.9 L194.0,377.8 L194.8,376.7 L195.5,375.5 L196.2,374.2 L196.9,372.9 L197.7,371.6 L198.4,370.2 L199.1,368.7 L199.8,367.2 L200.6,365.6 L201.3,363.9 L202.0,362.3 L202.8,360.5 L203.5,358.8 L204.2,357.0 L204.9,355.2 L205.7,353.4 L206.4,351.6 L207.1,349.8 L207.8,348.0 L208.6,346.2 L209.3,344.4 L210.0,342.6 L210.7,340.9 L211.5,339.2 L212.2,337.4 L212.9,335.7 L213.7,334.0 L214.4,332.3 L215.1,330.6 L215.8,328.9 L216.6,327.2 L217.3,325.4 L218.0,323.7 L218.7,322.1 L219.5,320.5 L220.2,318.9 L220.9,317.4 L221.6,316.0 L222.4,314.8 L223.1,313.6 L223.8,312.5 L224.6,311.4 L225.3,310.5 L226.0,309.6 L226.7,308.8 L227.5,308.0 L228.2,307.3 L228.9,306.6 L229.6,305.9 L230.4,305.3 L231.1,304.8 L231.8,304.2 L232.5,303.7 L233.3,303.1 L234.0,302.6 L234.7,302.1 L235.5,301.6 L236.2,301.1 L236.9,300.5 L237.6,300.0 L238.4,299.4 L239.1,298.8 L239.8,298.2 L240.5,297.6 L241.3,297.0 L242.0,296.3 L242.7,295.6 L243.5,294.9 L244.2,294.1 L244.9,293.3 L245.6,292.4 L246.4,291.5 L247.1,290.5 L247.8,289.5 L248.5,288.4 L249.3,287.2 L250.0,286.0 L250.7,284.8 L251.4,283.4 L252.2,282.0 L252.9,280.6 L253.6,279.1 L254.4,277.6 L255.1,276.1 L255.8,274.6 L256.5,273.1 L257.3,271.6 L258.0,270.1 L258.7,268.7 L259.4,267.4 L260.2,266.1 L260.9,264.9 L261.6,263.8 L262.3,262.8 L263.1,261.9 L263.8,261.2 L264.5,260.5 L265.3,259.9 L266.0,259.5 L266.7,259.1 L267.4,258.8 L268.2,258.6 L268.9,258.3 L269.6,258.1 L270.3,257.9 L271.1,257.7 L271.8,257.4 L272.5,257.2 L273.2,256.9 L274.0,256.7 L274.7,256.4 L275.4,256.1 L276.2,255.8 L276.9,255.5 L277.6,255.2 L278.3,254.9 L279.1,254.5 L279.8,254.1 L280.5,253.8 L281.2,253.4 L282.0,253.0 L282.7,252.5 L283.4,252.1 L284.1,251.7 L284.9,251.2 L285.6,250.8 L286.3,250.3 L287.1,249.8 L287.8,249.4 L288.5,248.9 L289.2,248.4 L290.0,247.9 L290.7,247.4 L291.4,246.9 L292.1,246.4 L292.9,245.9 L293.6,245.4 L294.3,244.9 L295.1,244.4 L295.8,243.9 L296.5,243.5 L297.2,243.0 L298.0,242.5 L298.7,242.1 L299.4,241.7 L300.1,241.3 L300.9,241.0 L301.6,240.7 L302.3,240.3 L303.0,239.9 L303.8,239.4 L304.5,238.7 L305.2,237.9 L306.0,237.0 L306.7,236.0 L307.4,234.9 L308.1,233.7 L308.9,232.6 L309.6,231.4 L310.3,230.2 L311.0,229.1 L311.8,228.0 L312.5,227.0 L313.2,226.0 L313.9,225.0 L314.7,224.1 L315.4,223.2 L316.1,222.4 L316.9,221.5 L317.6,220.7 L318.3,219.9 L319.0,219.0 L319.8,218.2 L320.5,217.4 L321.2,216.5 L321.9,215.8 L322.7,215.0 L323.4,214.3 L324.1,213.7 L324.8,213.2 L325.6,212.7 L326.3,212.3 L327.0,211.8 L327.8,211.2 L328.5,210.5 L329.2,209.7 L329.9,208.8 L330.7,207.8 L331.4,206.8 L332.1,205.8 L332.8,204.9 L333.6,203.9 L334.3,202.9 L335.0,201.9 L335.7,201.0 L336.5,200.1 L337.2,199.1 L337.9,198.3 L338.7,197.4 L339.4,196.5 L340.1,195.7 L340.8,195.0 L341.6,194.2 L342.3,193.5 L343.0,192.9 L343.7,192.2 L344.5,191.7 L345.2,191.2 L345.9,190.7 L346.6,190.3 L347.4,190.0 L348.1,189.8 L348.8,189.6 L349.6,189.4 L350.3,189.4 L351.0,189.3 L351.7,189.2 L352.5,189.1 L353.2,188.9 L353.9,188.7 L354.6,188.4 L355.4,188.0 L356.1,187.6 L356.8,187.1 L357.6,186.7 L358.3,186.2 L359.0,185.6 L359.7,185.1 L360.5,184.5 L361.2,183.9 L361.9,183.4 L362.6,182.8 L363.4,182.2 L364.1,181.6 L364.8,181.1 L365.5,180.5 L366.3,179.8 L367.0,179.2 L367.7,178.5 L368.5,177.8 L369.2,177.0 L369.9,176.2 L370.6,175.3 L371.4,174.4 L372.1,173.4 L372.8,172.3 L373.5,171.3 L374.3,170.2 L375.0,169.0 L375.7,167.9 L376.4,166.7 L377.2,165.6 L377.9,164.5 L378.6,163.4 L379.4,162.3 L380.1,161.2 L380.8,160.2 L381.5,159.3 L382.3,158.3 L383.0,157.3 L383.7,156.3 L384.4,155.2 L385.2,154.0 L385.9,152.7 L386.6,151.3 L387.3,149.8 L388.1,148.3 L388.8,146.6 L389.5,144.9 L390.3,143.2 L391.0,141.4 L391.7,139.7 L392.4,137.9 L393.2,136.2 L393.9,134.5 L394.6,132.9 L395.3,131.4 L396.1,129.9 L396.8,128.5 L397.5,127.2 L398.2,126.1 L399.0,125.1 L399.7,124.1 L400.4,123.2 L401.2,122.3 L401.9,121.4 L402.6,120.5 L403.3,119.5 L404.1,118.5 L404.8,117.4 L405.5,116.3 L406.2,115.3 L407.0,114.2 L407.7,113.2 L408.4,112.2 L409.2,111.2 L409.9,110.4 L410.6,109.6 L411.3,108.9 L412.1,108.2 L412.8,107.6 L413.5,107.0 L414.2,106.4 L415.0,105.9 L415.7,105.4 L416.4,104.9 L417.1,104.4 L417.9,103.9 L418.6,103.4 L419.3,102.9 L420.1,102.5 L420.8,102.0 L421.5,101.5 L422.2,101.0 L423.0,100.5 L423.7,100.0 L424.4,99.5 L425.1,99.0 L425.9,98.5 L426.6,98.1 L427.3,97.6 L428.0,97.2 L428.8,96.8 L429.5,96.4 L430.2,96.0 L431.0,95.7 L431.7,95.4 L432.4,95.2 L433.1,95.0 L433.9,94.8 L434.6,94.7 L435.3,94.6 L436.0,94.6 L436.8,94.6 L437.5,94.7 L438.2,94.9 L438.9,95.1 L439.7,95.4 L440.4,95.7 L441.1,96.2 L441.9,96.7 L442.6,97.2 L443.3,97.9 L444.0,98.6 L444.8,99.5 L445.5,100.4 L446.2,101.4 L446.9,102.5 L447.7,103.8 L448.4,105.1 L449.1,106.6 L449.8,108.3 L450.6,110.0 L451.3,111.9 L452.0,114.0 L452.8,116.2 L453.5,118.6 L454.2,121.1 L454.9,123.9 L455.7,126.8 L456.4,129.8 L457.1,133.0 L457.8,136.4 L458.6,139.8 L459.3,143.4 L460.0,147.0 L460.8,150.6 L461.5,154.3 L462.2,158.0 L462.9,161.7 L463.7,165.4 L464.4,169.0 L465.1,172.6 L465.8,176.2 L466.6,179.7 L467.3,183.2 L468.0,186.7 L468.7,190.2 L469.5,193.7 L470.2,197.3 L470.9,200.8 L471.7,204.4 L472.4,208.1 L473.1,211.8 L473.8,215.5 L474.6,219.4 L475.3,223.3 L476.0,227.3 L476.7,231.3 L477.5,235.4 L478.2,239.4 L478.9,243.4 L479.6,247.4 L480.4,251.2 L481.1,254.9 L481.8,258.5 L482.6,261.9 L483.3,265.2 L484.0,268.4 L484.7,271.5 L485.5,274.5 L486.2,277.4 L486.9,280.2 L487.6,282.8 L488.4,285.4 L489.1,288.0 L489.8,290.6 L490.5,293.2 L491.3,295.8 L492.0,298.4 L492.7,301.1 L493.5,303.7 L494.2,306.4 L494.9,309.0 L495.6,311.6 L496.4,314.1 L497.1,316.6 L497.8,319.1 L498.5,321.5 L499.3,323.8 L500.0,326.1 L500.7,328.3 L501.4,330.4 L502.2,332.5 L502.9,334.5 L503.6,336.4 L504.4,338.2 L505.1,340.0 L505.8,341.7 L506.5,343.4 L507.3,345.0 L508.0,346.5 L508.7,348.0 L509.4,349.4 L510.2,350.8 L510.9,352.1 L511.6,353.4 L512.3,354.6 L513.1,355.7 L513.8,356.9 L514.5,358.0 L515.3,359.0 L516.0,360.0 L516.7,361.0 L517.4,362.0 L518.2,362.9 L518.9,363.8 L519.6,364.7 L520.3,365.5 L521.1,366.4 L521.8,367.2 L522.5,368.0 L523.3,368.8 L524.0,369.6 L524.7,370.4 L525.4,371.2 L526.2,371.9 L526.9,372.7 L527.6,373.4 L528.3,374.2 L529.1,374.9 L529.8,375.6 L530.5,376.3 L531.2,377.0 L532.0,377.7 L532.7,378.4 L533.4,379.0 L534.2,379.7 L534.9,380.3 L535.6,380.9 L536.3,381.5 L537.1,382.1 L537.8,382.6 L538.5,383.2 L539.2,383.7 L540.0,384.2 L540.7,384.7 L541.4,385.2 L542.1,385.7 L542.9,386.1 L543.6,386.6 L544.3,387.0 L545.1,387.5 L545.8,387.9 L546.5,388.3 L547.2,388.7 L548.0,389.0 L548.7,389.4 L549.4,389.8 L550.1,390.1 L550.9,390.4 L551.6,390.8 L552.3,391.1 L553.0,391.4 L553.8,391.7 L554.5,391.9 L555.2,392.2 L556.0,392.5 L556.7,392.7 L557.4,393.0 L558.1,393.2 L558.9,393.5 L559.6,393.7 L560.3,393.9 L561.0,394.1 L561.8,394.3 L562.5,394.5 L563.2,394.7 L563.9,394.9 L564.7,395.0 L565.4,395.2 L566.1,395.4 L566.9,395.5 L567.6,395.7 L568.3,395.8 L569.0,396.0 L569.8,396.1 L570.5,396.3 L571.2,396.4 L571.9,396.5 L572.7,396.6 L573.4,396.8 L574.1,396.9 L574.9,397.0 L575.6,397.1 L576.3,397.2 L577.0,397.3 L577.8,397.4 L578.5,397.5 L579.2,397.6 L579.9,397.7 L580.7,397.8 L581.4,397.9 L582.1,398.0 L582.8,398.1 L583.6,398.2 L584.3,398.2 L585.0,398.3 L585.8,398.4 L586.5,398.5 L587.2,398.6 L587.9,398.6 L588.7,398.7 L589.4,398.8 L590.1,398.8 L590.8,398.9 L591.6,399.0 L592.3,399.0 L593.0,399.1 L593.7,399.1 L594.5,399.2 L595.2,399.3 L595.9,399.3 L596.7,399.4 L597.4,399.4 L598.1,399.5 L598.8,399.5 L599.6,399.5 L600.3,399.6 L601.0,399.6 L601.7,399.7 L602.5,399.7 L603.2,399.7 L603.9,399.8 L604.6,399.8 L605.4,399.9 L606.1,399.9 L606.8,399.9 L607.6,400.0 L608.3,400.0 L609.0,400.0 L609.7,400.0 L610.5,400.1 L611.2,400.1 L611.9,400.1 L612.6,400.1 L613.4,400.2 L614.1,400.2 L614.8,400.2 L615.5,400.2 L616.3,400.3 L617.0,400.3 L617.7,400.3 L618.5,400.3 L619.2,400.3 L619.9,400.4 L620.6,400.4 L621.4,400.4 L622.1,400.4 L622.8,400.4 L623.5,400.4 L624.3,400.5 L625.0,400.5 L625.7,400.5 L626.4,400.5 L627.2,400.5 L627.9,400.5 L628.6,400.5 L629.4,400.6 L630.1,400.6 L630.8,400.6 L631.5,400.6 L632.3,400.6 L633.0,400.6 L633.7,400.7 L634.4,400.7 L635.2,400.7 L635.9,400.7 L636.6,400.7 L637.4,400.7 L638.1,400.8 L638.8,400.8 L639.5,400.8 L640.3,400.8 L641.0,400.8 L641.7,400.8 L642.4,400.9 L643.2,400.9 L643.9,400.9 L644.6,400.9 L645.3,401.0 L646.1,401.0 L646.8,401.0 L647.5,401.0 L648.3,401.1 L649.0,401.1 L649.7,401.1 L650.4,401.1 L651.2,401.2 L651.9,401.2 L652.6,401.2 L653.3,401.3 L654.1,401.3 L654.8,401.3 L655.5,401.4 L656.2,401.4 L657.0,401.5 L657.7,401.5" fill="none" stroke="#262626" stroke-width="2.75" stroke-linejoin="round"/>
<path d="M168.80,91.00 L168.80,119.60" stroke="#000" stroke-width="2" fill="none"/><path d="M163.80,111.00 L168.80,119.60 L173.80,111.00" stroke="#000" stroke-width="2.1" fill="none" stroke-linejoin="miter"/>
<path d="M326.60,92.00 L326.60,120.60" stroke="#000" stroke-width="2" fill="none"/><path d="M321.60,112.00 L326.60,120.60 L331.60,112.00" stroke="#000" stroke-width="2.1" fill="none" stroke-linejoin="miter"/>
<path d="M417.40,245.00 L417.40,273.20" stroke="#000" stroke-width="2" fill="none"/><path d="M412.40,264.60 L417.40,273.20 L422.40,264.60" stroke="#000" stroke-width="2.1" fill="none" stroke-linejoin="miter"/>
<g font-family="Liberation Sans, sans-serif" font-weight="bold" font-style="italic" font-size="17" fill="#000" stroke="#000" stroke-width="0.3">
<text x="132.4" y="61.0" textLength="40.2" lengthAdjust="spacingAndGlyphs">Start</text>
<text x="132.6" y="84.5">First lift</text>
<text x="316.9" y="61.0" text-anchor="middle" textLength="75.6" lengthAdjust="spacingAndGlyphs">Midpoint</text>
<text x="317.5" y="84.5" text-anchor="middle" textLength="65.6" lengthAdjust="spacingAndGlyphs">Fifth lift</text>
<text x="441.6" y="215" text-anchor="end" textLength="31" lengthAdjust="spacingAndGlyphs">End</text>
<text x="441.5" y="238.6" text-anchor="end">Last lift</text>
<text x="656.6" y="50.5" text-anchor="end" textLength="173.6" lengthAdjust="spacingAndGlyphs">IC capacity threshold</text>
</g>
<g stroke="#333" stroke-width="2.1">
<line x1="117" x2="124.2" y1="401.70" y2="401.70"/>
<line x1="117" x2="124.2" y1="363.96" y2="363.96"/>
<line x1="117" x2="124.2" y1="326.22" y2="326.22"/>
<line x1="117" x2="124.2" y1="288.48" y2="288.48"/>
<line x1="117" x2="124.2" y1="250.74" y2="250.74"/>
<line x1="117" x2="124.2" y1="213.00" y2="213.00"/>
<line x1="117" x2="124.2" y1="175.26" y2="175.26"/>
<line x1="117" x2="124.2" y1="137.52" y2="137.52"/>
<line x1="117" x2="124.2" y1="99.78" y2="99.78"/>
<line x1="117" x2="124.2" y1="62.04" y2="62.04"/>
<line x1="117" x2="124.2" y1="24.30" y2="24.30"/>
<line x1="160.50" x2="160.50" y1="420.6" y2="427.4"/>
<line x1="271.03" x2="271.03" y1="420.6" y2="427.4"/>
<line x1="381.55" x2="381.55" y1="420.6" y2="427.4"/>
<line x1="492.08" x2="492.08" y1="420.6" y2="427.4"/>
<line x1="602.60" x2="602.60" y1="420.6" y2="427.4"/>
</g>
<g font-family="Liberation Sans, sans-serif" font-size="23" fill="#4D4D4D" stroke="#4D4D4D" stroke-width="0.35">
<text x="111.2" y="409.95" text-anchor="end">0</text>
<text x="111.2" y="372.21" text-anchor="end">2000</text>
<text x="111.2" y="334.47" text-anchor="end">4000</text>
<text x="111.2" y="296.73" text-anchor="end">6000</text>
<text x="111.2" y="258.99" text-anchor="end">8000</text>
<text x="111.2" y="221.25" text-anchor="end">10000</text>
<text x="111.2" y="183.51" text-anchor="end">12000</text>
<text x="111.2" y="145.77" text-anchor="end">14000</text>
<text x="111.2" y="108.03" text-anchor="end">16000</text>
<text x="111.2" y="70.29" text-anchor="end">18000</text>
<text x="111.2" y="32.55" text-anchor="end">20000</text>
<text x="160.50" y="449.6" text-anchor="middle">0</text>
<text x="271.03" y="449.6" text-anchor="middle">200</text>
<text x="381.55" y="449.6" text-anchor="middle">400</text>
<text x="492.08" y="449.6" text-anchor="middle">600</text>
<text x="602.60" y="449.6" text-anchor="middle">800</text>
</g>
<text x="403.7" y="491.9" text-anchor="middle" font-family="Liberation Sans, sans-serif" font-size="27.4" fill="#000" stroke="#000" stroke-width="0.35">Time (days)</text>
<text transform="translate(22.8,211.3) rotate(-90)" text-anchor="middle" font-family="Liberation Sans, sans-serif" font-size="27.6" fill="#000" stroke="#000" stroke-width="0.35">Covid−19 cases per million</text>
</svg>
</body></html>
